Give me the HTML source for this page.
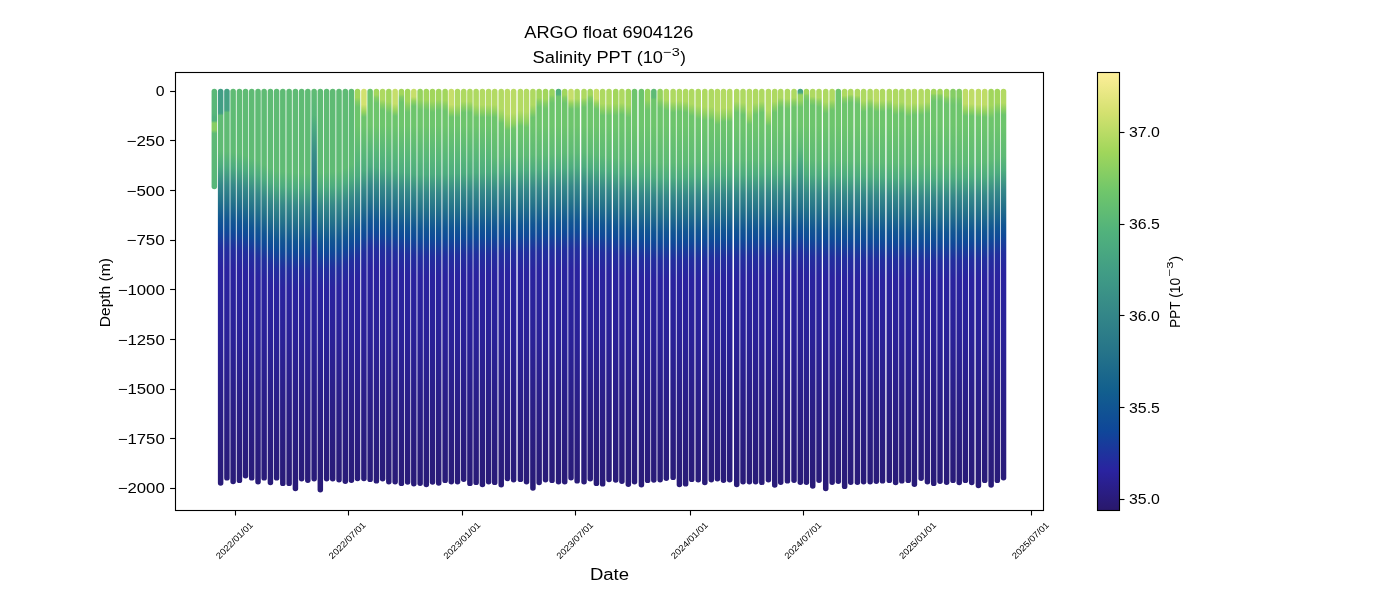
<!DOCTYPE html>
<html><head><meta charset="utf-8"><style>html,body{margin:0;padding:0;background:#fff;width:1400px;height:600px;overflow:hidden}svg{display:block;will-change:transform}</style></head><body><svg width="1400" height="600" viewBox="0 0 1400 600" font-family='"Liberation Sans", sans-serif' fill="#000">
<defs><linearGradient id="g0" gradientUnits="userSpaceOnUse" x1="0" y1="91.3" x2="0" y2="490.4"><stop offset="0.0000" stop-color="#5ab877"/><stop offset="0.0547" stop-color="#57b679"/><stop offset="0.0647" stop-color="#50b17c"/><stop offset="0.0736" stop-color="#50b17c"/><stop offset="0.0796" stop-color="#87ce63"/><stop offset="0.0970" stop-color="#87ce63"/><stop offset="0.1055" stop-color="#5eba75"/><stop offset="0.2488" stop-color="#57b679"/></linearGradient><linearGradient id="g1" gradientUnits="userSpaceOnUse" x1="0" y1="91.3" x2="0" y2="490.4"><stop offset="0.0000" stop-color="#429e85"/><stop offset="0.0547" stop-color="#429e85"/><stop offset="0.0607" stop-color="#5fbb74"/><stop offset="0.1493" stop-color="#5fbb74"/><stop offset="0.1866" stop-color="#4dac7e"/><stop offset="0.2338" stop-color="#358888"/><stop offset="0.2761" stop-color="#23718a"/><stop offset="0.3234" stop-color="#115593"/><stop offset="0.3483" stop-color="#0f4a98"/><stop offset="0.3930" stop-color="#222e9e"/><stop offset="0.4428" stop-color="#2a239f"/><stop offset="0.6219" stop-color="#2a2197"/><stop offset="0.7960" stop-color="#2a1e86"/><stop offset="1.0000" stop-color="#291b77"/></linearGradient><linearGradient id="g2" gradientUnits="userSpaceOnUse" x1="0" y1="91.3" x2="0" y2="490.4"><stop offset="0.0000" stop-color="#44a183"/><stop offset="0.0473" stop-color="#44a183"/><stop offset="0.0532" stop-color="#5fbb74"/><stop offset="0.1509" stop-color="#5fbb74"/><stop offset="0.1882" stop-color="#4dac7e"/><stop offset="0.2355" stop-color="#358888"/><stop offset="0.2778" stop-color="#23718a"/><stop offset="0.3250" stop-color="#115593"/><stop offset="0.3499" stop-color="#0f4a98"/><stop offset="0.3947" stop-color="#222e9e"/><stop offset="0.4444" stop-color="#2a239f"/><stop offset="0.6219" stop-color="#2a2197"/><stop offset="0.7960" stop-color="#2a1e86"/><stop offset="1.0000" stop-color="#291b77"/></linearGradient><linearGradient id="g3" gradientUnits="userSpaceOnUse" x1="0" y1="91.3" x2="0" y2="490.4"><stop offset="0.0000" stop-color="#5fbb74"/><stop offset="0.1526" stop-color="#5fbb74"/><stop offset="0.1899" stop-color="#4dac7e"/><stop offset="0.2371" stop-color="#358888"/><stop offset="0.2794" stop-color="#23718a"/><stop offset="0.3267" stop-color="#115593"/><stop offset="0.3516" stop-color="#0f4a98"/><stop offset="0.3964" stop-color="#222e9e"/><stop offset="0.4461" stop-color="#2a239f"/><stop offset="0.6219" stop-color="#2a2197"/><stop offset="0.7960" stop-color="#2a1e86"/><stop offset="1.0000" stop-color="#291b77"/></linearGradient><linearGradient id="g4" gradientUnits="userSpaceOnUse" x1="0" y1="91.3" x2="0" y2="490.4"><stop offset="0.0000" stop-color="#5fbb74"/><stop offset="0.1542" stop-color="#5fbb74"/><stop offset="0.1915" stop-color="#4dac7e"/><stop offset="0.2388" stop-color="#358888"/><stop offset="0.2811" stop-color="#23718a"/><stop offset="0.3284" stop-color="#115593"/><stop offset="0.3532" stop-color="#0f4a98"/><stop offset="0.3980" stop-color="#222e9e"/><stop offset="0.4478" stop-color="#2a239f"/><stop offset="0.6219" stop-color="#2a2197"/><stop offset="0.7960" stop-color="#2a1e86"/><stop offset="1.0000" stop-color="#291b77"/></linearGradient><linearGradient id="g5" gradientUnits="userSpaceOnUse" x1="0" y1="91.3" x2="0" y2="490.4"><stop offset="0.0000" stop-color="#5fbb74"/><stop offset="0.1609" stop-color="#5fbb74"/><stop offset="0.1982" stop-color="#4dac7e"/><stop offset="0.2454" stop-color="#358888"/><stop offset="0.2877" stop-color="#23718a"/><stop offset="0.3350" stop-color="#115593"/><stop offset="0.3599" stop-color="#0f4a98"/><stop offset="0.4046" stop-color="#222e9e"/><stop offset="0.4544" stop-color="#2a239f"/><stop offset="0.6219" stop-color="#2a2197"/><stop offset="0.7960" stop-color="#2a1e86"/><stop offset="1.0000" stop-color="#291b77"/></linearGradient><linearGradient id="g6" gradientUnits="userSpaceOnUse" x1="0" y1="91.3" x2="0" y2="490.4"><stop offset="0.0000" stop-color="#5fbb74"/><stop offset="0.1675" stop-color="#5fbb74"/><stop offset="0.2048" stop-color="#4dac7e"/><stop offset="0.2521" stop-color="#358888"/><stop offset="0.2944" stop-color="#23718a"/><stop offset="0.3416" stop-color="#115593"/><stop offset="0.3665" stop-color="#0f4a98"/><stop offset="0.4113" stop-color="#222e9e"/><stop offset="0.4610" stop-color="#2a239f"/><stop offset="0.6219" stop-color="#2a2197"/><stop offset="0.7960" stop-color="#2a1e86"/><stop offset="1.0000" stop-color="#291b77"/></linearGradient><linearGradient id="g7" gradientUnits="userSpaceOnUse" x1="0" y1="91.3" x2="0" y2="490.4"><stop offset="0.0000" stop-color="#5fbb74"/><stop offset="0.1741" stop-color="#5fbb74"/><stop offset="0.2114" stop-color="#4dac7e"/><stop offset="0.2587" stop-color="#358888"/><stop offset="0.3010" stop-color="#23718a"/><stop offset="0.3483" stop-color="#115593"/><stop offset="0.3731" stop-color="#0f4a98"/><stop offset="0.4179" stop-color="#222e9e"/><stop offset="0.4677" stop-color="#2a239f"/><stop offset="0.6219" stop-color="#2a2197"/><stop offset="0.7960" stop-color="#2a1e86"/><stop offset="1.0000" stop-color="#291b77"/></linearGradient><linearGradient id="g8" gradientUnits="userSpaceOnUse" x1="0" y1="91.3" x2="0" y2="490.4"><stop offset="0.0000" stop-color="#5fbb74"/><stop offset="0.1828" stop-color="#5fbb74"/><stop offset="0.2201" stop-color="#4dac7e"/><stop offset="0.2673" stop-color="#358888"/><stop offset="0.3096" stop-color="#23718a"/><stop offset="0.3569" stop-color="#115593"/><stop offset="0.3818" stop-color="#0f4a98"/><stop offset="0.4265" stop-color="#222e9e"/><stop offset="0.4763" stop-color="#2a239f"/><stop offset="0.6219" stop-color="#2a2197"/><stop offset="0.7960" stop-color="#2a1e86"/><stop offset="1.0000" stop-color="#291b77"/></linearGradient><linearGradient id="g9" gradientUnits="userSpaceOnUse" x1="0" y1="91.3" x2="0" y2="490.4"><stop offset="0.0000" stop-color="#5fbb74"/><stop offset="0.1914" stop-color="#5fbb74"/><stop offset="0.2287" stop-color="#4dac7e"/><stop offset="0.2760" stop-color="#358888"/><stop offset="0.3182" stop-color="#23718a"/><stop offset="0.3655" stop-color="#115593"/><stop offset="0.3904" stop-color="#0f4a98"/><stop offset="0.4352" stop-color="#222e9e"/><stop offset="0.4849" stop-color="#2a239f"/><stop offset="0.6219" stop-color="#2a2197"/><stop offset="0.7960" stop-color="#2a1e86"/><stop offset="1.0000" stop-color="#291b77"/></linearGradient><linearGradient id="g10" gradientUnits="userSpaceOnUse" x1="0" y1="91.3" x2="0" y2="490.4"><stop offset="0.0000" stop-color="#5fbb74"/><stop offset="0.2000" stop-color="#5fbb74"/><stop offset="0.2373" stop-color="#4dac7e"/><stop offset="0.2846" stop-color="#358888"/><stop offset="0.3269" stop-color="#23718a"/><stop offset="0.3741" stop-color="#115593"/><stop offset="0.3990" stop-color="#0f4a98"/><stop offset="0.4438" stop-color="#222e9e"/><stop offset="0.4935" stop-color="#2a239f"/><stop offset="0.6219" stop-color="#2a2197"/><stop offset="0.7960" stop-color="#2a1e86"/><stop offset="1.0000" stop-color="#291b77"/></linearGradient><linearGradient id="g11" gradientUnits="userSpaceOnUse" x1="0" y1="91.3" x2="0" y2="490.4"><stop offset="0.0000" stop-color="#5fbb74"/><stop offset="0.2010" stop-color="#5fbb74"/><stop offset="0.2383" stop-color="#4dac7e"/><stop offset="0.2856" stop-color="#358888"/><stop offset="0.3279" stop-color="#23718a"/><stop offset="0.3751" stop-color="#115593"/><stop offset="0.4000" stop-color="#0f4a98"/><stop offset="0.4448" stop-color="#222e9e"/><stop offset="0.4945" stop-color="#2a239f"/><stop offset="0.6219" stop-color="#2a2197"/><stop offset="0.7960" stop-color="#2a1e86"/><stop offset="1.0000" stop-color="#291b77"/></linearGradient><linearGradient id="g12" gradientUnits="userSpaceOnUse" x1="0" y1="91.3" x2="0" y2="490.4"><stop offset="0.0000" stop-color="#5fbb74"/><stop offset="0.2020" stop-color="#5fbb74"/><stop offset="0.2393" stop-color="#4dac7e"/><stop offset="0.2866" stop-color="#358888"/><stop offset="0.3289" stop-color="#23718a"/><stop offset="0.3761" stop-color="#115593"/><stop offset="0.4010" stop-color="#0f4a98"/><stop offset="0.4458" stop-color="#222e9e"/><stop offset="0.4955" stop-color="#2a239f"/><stop offset="0.6219" stop-color="#2a2197"/><stop offset="0.7960" stop-color="#2a1e86"/><stop offset="1.0000" stop-color="#291b77"/></linearGradient><linearGradient id="g13" gradientUnits="userSpaceOnUse" x1="0" y1="91.3" x2="0" y2="490.4"><stop offset="0.0000" stop-color="#5fbb74"/><stop offset="0.2030" stop-color="#5fbb74"/><stop offset="0.2403" stop-color="#4dac7e"/><stop offset="0.2876" stop-color="#358888"/><stop offset="0.3299" stop-color="#23718a"/><stop offset="0.3771" stop-color="#115593"/><stop offset="0.4020" stop-color="#0f4a98"/><stop offset="0.4468" stop-color="#222e9e"/><stop offset="0.4965" stop-color="#2a239f"/><stop offset="0.6219" stop-color="#2a2197"/><stop offset="0.7960" stop-color="#2a1e86"/><stop offset="1.0000" stop-color="#291b77"/></linearGradient><linearGradient id="g14" gradientUnits="userSpaceOnUse" x1="0" y1="91.3" x2="0" y2="490.4"><stop offset="0.0000" stop-color="#5fbb74"/><stop offset="0.2040" stop-color="#5fbb74"/><stop offset="0.2413" stop-color="#4dac7e"/><stop offset="0.2886" stop-color="#358888"/><stop offset="0.3308" stop-color="#23718a"/><stop offset="0.3781" stop-color="#115593"/><stop offset="0.4030" stop-color="#0f4a98"/><stop offset="0.4478" stop-color="#222e9e"/><stop offset="0.4975" stop-color="#2a239f"/><stop offset="0.6219" stop-color="#2a2197"/><stop offset="0.7960" stop-color="#2a1e86"/><stop offset="1.0000" stop-color="#291b77"/></linearGradient><linearGradient id="g15" gradientUnits="userSpaceOnUse" x1="0" y1="91.3" x2="0" y2="490.4"><stop offset="0.0000" stop-color="#5fbb74"/><stop offset="0.2050" stop-color="#5fbb74"/><stop offset="0.2423" stop-color="#4dac7e"/><stop offset="0.2896" stop-color="#358888"/><stop offset="0.3318" stop-color="#23718a"/><stop offset="0.3791" stop-color="#115593"/><stop offset="0.4040" stop-color="#0f4a98"/><stop offset="0.4488" stop-color="#222e9e"/><stop offset="0.4985" stop-color="#2a239f"/><stop offset="0.6219" stop-color="#2a2197"/><stop offset="0.7960" stop-color="#2a1e86"/><stop offset="1.0000" stop-color="#291b77"/></linearGradient><linearGradient id="g16" gradientUnits="userSpaceOnUse" x1="0" y1="91.3" x2="0" y2="490.4"><stop offset="0.0000" stop-color="#5fbb74"/><stop offset="0.0597" stop-color="#57b679"/><stop offset="0.0896" stop-color="#4baa7f"/><stop offset="0.1542" stop-color="#388d87"/><stop offset="0.2423" stop-color="#257389"/><stop offset="0.3025" stop-color="#115b90"/><stop offset="0.3483" stop-color="#0f4899"/><stop offset="0.3955" stop-color="#222e9e"/><stop offset="0.4726" stop-color="#2a239f"/><stop offset="0.6219" stop-color="#2a2197"/><stop offset="0.7960" stop-color="#2a1e86"/><stop offset="1.0000" stop-color="#291b77"/></linearGradient><linearGradient id="g17" gradientUnits="userSpaceOnUse" x1="0" y1="91.3" x2="0" y2="490.4"><stop offset="0.0000" stop-color="#5fbb74"/><stop offset="0.2030" stop-color="#5fbb74"/><stop offset="0.2403" stop-color="#4dac7e"/><stop offset="0.2876" stop-color="#358888"/><stop offset="0.3299" stop-color="#23718a"/><stop offset="0.3771" stop-color="#115593"/><stop offset="0.4020" stop-color="#0f4a98"/><stop offset="0.4468" stop-color="#222e9e"/><stop offset="0.4965" stop-color="#2a239f"/><stop offset="0.6219" stop-color="#2a2197"/><stop offset="0.7960" stop-color="#2a1e86"/><stop offset="1.0000" stop-color="#291b77"/></linearGradient><linearGradient id="g18" gradientUnits="userSpaceOnUse" x1="0" y1="91.3" x2="0" y2="490.4"><stop offset="0.0000" stop-color="#5fbb74"/><stop offset="0.2020" stop-color="#5fbb74"/><stop offset="0.2393" stop-color="#4dac7e"/><stop offset="0.2866" stop-color="#358888"/><stop offset="0.3289" stop-color="#23718a"/><stop offset="0.3761" stop-color="#115593"/><stop offset="0.4010" stop-color="#0f4a98"/><stop offset="0.4458" stop-color="#222e9e"/><stop offset="0.4955" stop-color="#2a239f"/><stop offset="0.6219" stop-color="#2a2197"/><stop offset="0.7960" stop-color="#2a1e86"/><stop offset="1.0000" stop-color="#291b77"/></linearGradient><linearGradient id="g19" gradientUnits="userSpaceOnUse" x1="0" y1="91.3" x2="0" y2="490.4"><stop offset="0.0000" stop-color="#5fbb74"/><stop offset="0.2010" stop-color="#5fbb74"/><stop offset="0.2383" stop-color="#4dac7e"/><stop offset="0.2856" stop-color="#358888"/><stop offset="0.3279" stop-color="#23718a"/><stop offset="0.3751" stop-color="#115593"/><stop offset="0.4000" stop-color="#0f4a98"/><stop offset="0.4448" stop-color="#222e9e"/><stop offset="0.4945" stop-color="#2a239f"/><stop offset="0.6219" stop-color="#2a2197"/><stop offset="0.7960" stop-color="#2a1e86"/><stop offset="1.0000" stop-color="#291b77"/></linearGradient><linearGradient id="g20" gradientUnits="userSpaceOnUse" x1="0" y1="91.3" x2="0" y2="490.4"><stop offset="0.0000" stop-color="#5fbb74"/><stop offset="0.2000" stop-color="#5fbb74"/><stop offset="0.2373" stop-color="#4dac7e"/><stop offset="0.2846" stop-color="#358888"/><stop offset="0.3269" stop-color="#23718a"/><stop offset="0.3741" stop-color="#115593"/><stop offset="0.3990" stop-color="#0f4a98"/><stop offset="0.4438" stop-color="#222e9e"/><stop offset="0.4935" stop-color="#2a239f"/><stop offset="0.6219" stop-color="#2a2197"/><stop offset="0.7960" stop-color="#2a1e86"/><stop offset="1.0000" stop-color="#291b77"/></linearGradient><linearGradient id="g21" gradientUnits="userSpaceOnUse" x1="0" y1="91.3" x2="0" y2="490.4"><stop offset="0.0000" stop-color="#5fbb74"/><stop offset="0.1914" stop-color="#5fbb74"/><stop offset="0.2287" stop-color="#4dac7e"/><stop offset="0.2760" stop-color="#358888"/><stop offset="0.3182" stop-color="#23718a"/><stop offset="0.3655" stop-color="#115593"/><stop offset="0.3904" stop-color="#0f4a98"/><stop offset="0.4352" stop-color="#222e9e"/><stop offset="0.4849" stop-color="#2a239f"/><stop offset="0.6219" stop-color="#2a2197"/><stop offset="0.7960" stop-color="#2a1e86"/><stop offset="1.0000" stop-color="#291b77"/></linearGradient><linearGradient id="g22" gradientUnits="userSpaceOnUse" x1="0" y1="91.3" x2="0" y2="490.4"><stop offset="0.0000" stop-color="#5fbb74"/><stop offset="0.1828" stop-color="#5fbb74"/><stop offset="0.2201" stop-color="#4dac7e"/><stop offset="0.2673" stop-color="#358888"/><stop offset="0.3096" stop-color="#23718a"/><stop offset="0.3569" stop-color="#115593"/><stop offset="0.3818" stop-color="#0f4a98"/><stop offset="0.4265" stop-color="#222e9e"/><stop offset="0.4763" stop-color="#2a239f"/><stop offset="0.6219" stop-color="#2a2197"/><stop offset="0.7960" stop-color="#2a1e86"/><stop offset="1.0000" stop-color="#291b77"/></linearGradient><linearGradient id="g23" gradientUnits="userSpaceOnUse" x1="0" y1="91.3" x2="0" y2="490.4"><stop offset="0.0000" stop-color="#a2d65c"/><stop offset="0.0157" stop-color="#a2d65c"/><stop offset="0.0264" stop-color="#84cd64"/><stop offset="0.0398" stop-color="#6dc56c"/><stop offset="0.0846" stop-color="#6dc56c"/><stop offset="0.1741" stop-color="#57b679"/><stop offset="0.2114" stop-color="#4dac7e"/><stop offset="0.2587" stop-color="#358888"/><stop offset="0.3010" stop-color="#23718a"/><stop offset="0.3483" stop-color="#115593"/><stop offset="0.3731" stop-color="#0f4a98"/><stop offset="0.4179" stop-color="#222e9e"/><stop offset="0.4677" stop-color="#2a239f"/><stop offset="0.6219" stop-color="#2a2197"/><stop offset="0.7960" stop-color="#2a1e86"/><stop offset="1.0000" stop-color="#291b77"/></linearGradient><linearGradient id="g24" gradientUnits="userSpaceOnUse" x1="0" y1="91.3" x2="0" y2="490.4"><stop offset="0.0000" stop-color="#d2e16f"/><stop offset="0.0331" stop-color="#d2e16f"/><stop offset="0.0512" stop-color="#98d35e"/><stop offset="0.0647" stop-color="#6dc56c"/><stop offset="0.0846" stop-color="#6dc56c"/><stop offset="0.1617" stop-color="#57b679"/><stop offset="0.1990" stop-color="#4dac7e"/><stop offset="0.2463" stop-color="#358888"/><stop offset="0.2886" stop-color="#23718a"/><stop offset="0.3358" stop-color="#115593"/><stop offset="0.3607" stop-color="#0f4a98"/><stop offset="0.4055" stop-color="#222e9e"/><stop offset="0.4552" stop-color="#2a239f"/><stop offset="0.6219" stop-color="#2a2197"/><stop offset="0.7960" stop-color="#2a1e86"/><stop offset="1.0000" stop-color="#291b77"/></linearGradient><linearGradient id="g25" gradientUnits="userSpaceOnUse" x1="0" y1="91.3" x2="0" y2="490.4"><stop offset="0.0000" stop-color="#6dc56c"/><stop offset="0.0846" stop-color="#6dc56c"/><stop offset="0.1493" stop-color="#57b679"/><stop offset="0.1866" stop-color="#4dac7e"/><stop offset="0.2338" stop-color="#358888"/><stop offset="0.2761" stop-color="#23718a"/><stop offset="0.3234" stop-color="#115593"/><stop offset="0.3483" stop-color="#0f4a98"/><stop offset="0.3930" stop-color="#222e9e"/><stop offset="0.4428" stop-color="#2a239f"/><stop offset="0.6219" stop-color="#2a2197"/><stop offset="0.7960" stop-color="#2a1e86"/><stop offset="1.0000" stop-color="#291b77"/></linearGradient><linearGradient id="g26" gradientUnits="userSpaceOnUse" x1="0" y1="91.3" x2="0" y2="490.4"><stop offset="0.0000" stop-color="#a2d65c"/><stop offset="0.0087" stop-color="#a2d65c"/><stop offset="0.0164" stop-color="#84cd64"/><stop offset="0.0299" stop-color="#6dc56c"/><stop offset="0.0846" stop-color="#6dc56c"/><stop offset="0.1526" stop-color="#57b679"/><stop offset="0.1899" stop-color="#4dac7e"/><stop offset="0.2371" stop-color="#358888"/><stop offset="0.2794" stop-color="#23718a"/><stop offset="0.3267" stop-color="#115593"/><stop offset="0.3516" stop-color="#0f4a98"/><stop offset="0.3964" stop-color="#222e9e"/><stop offset="0.4461" stop-color="#2a239f"/><stop offset="0.6219" stop-color="#2a2197"/><stop offset="0.7960" stop-color="#2a1e86"/><stop offset="1.0000" stop-color="#291b77"/></linearGradient><linearGradient id="g27" gradientUnits="userSpaceOnUse" x1="0" y1="91.3" x2="0" y2="490.4"><stop offset="0.0000" stop-color="#aed961"/><stop offset="0.0209" stop-color="#aed961"/><stop offset="0.0338" stop-color="#89ce63"/><stop offset="0.0473" stop-color="#6dc56c"/><stop offset="0.0846" stop-color="#6dc56c"/><stop offset="0.1559" stop-color="#57b679"/><stop offset="0.1932" stop-color="#4dac7e"/><stop offset="0.2405" stop-color="#358888"/><stop offset="0.2828" stop-color="#23718a"/><stop offset="0.3300" stop-color="#115593"/><stop offset="0.3549" stop-color="#0f4a98"/><stop offset="0.3997" stop-color="#222e9e"/><stop offset="0.4494" stop-color="#2a239f"/><stop offset="0.6219" stop-color="#2a2197"/><stop offset="0.7960" stop-color="#2a1e86"/><stop offset="1.0000" stop-color="#291b77"/></linearGradient><linearGradient id="g28" gradientUnits="userSpaceOnUse" x1="0" y1="91.3" x2="0" y2="490.4"><stop offset="0.0000" stop-color="#a2d65c"/><stop offset="0.0261" stop-color="#a2d65c"/><stop offset="0.0413" stop-color="#84cd64"/><stop offset="0.0547" stop-color="#6dc56c"/><stop offset="0.0846" stop-color="#6dc56c"/><stop offset="0.1592" stop-color="#57b679"/><stop offset="0.1965" stop-color="#4dac7e"/><stop offset="0.2438" stop-color="#358888"/><stop offset="0.2861" stop-color="#23718a"/><stop offset="0.3333" stop-color="#115593"/><stop offset="0.3582" stop-color="#0f4a98"/><stop offset="0.4030" stop-color="#222e9e"/><stop offset="0.4527" stop-color="#2a239f"/><stop offset="0.6219" stop-color="#2a2197"/><stop offset="0.7960" stop-color="#2a1e86"/><stop offset="1.0000" stop-color="#291b77"/></linearGradient><linearGradient id="g29" gradientUnits="userSpaceOnUse" x1="0" y1="91.3" x2="0" y2="490.4"><stop offset="0.0000" stop-color="#c6de6a"/><stop offset="0.0313" stop-color="#c6de6a"/><stop offset="0.0488" stop-color="#93d25f"/><stop offset="0.0622" stop-color="#6dc56c"/><stop offset="0.0846" stop-color="#6dc56c"/><stop offset="0.1617" stop-color="#57b679"/><stop offset="0.1990" stop-color="#4dac7e"/><stop offset="0.2463" stop-color="#358888"/><stop offset="0.2886" stop-color="#23718a"/><stop offset="0.3358" stop-color="#115593"/><stop offset="0.3607" stop-color="#0f4a98"/><stop offset="0.4055" stop-color="#222e9e"/><stop offset="0.4552" stop-color="#2a239f"/><stop offset="0.6219" stop-color="#2a2197"/><stop offset="0.7960" stop-color="#2a1e86"/><stop offset="1.0000" stop-color="#291b77"/></linearGradient><linearGradient id="g30" gradientUnits="userSpaceOnUse" x1="0" y1="91.3" x2="0" y2="490.4"><stop offset="0.0000" stop-color="#a2d65c"/><stop offset="0.0070" stop-color="#a2d65c"/><stop offset="0.0139" stop-color="#84cd64"/><stop offset="0.0274" stop-color="#6dc56c"/><stop offset="0.0846" stop-color="#6dc56c"/><stop offset="0.1642" stop-color="#57b679"/><stop offset="0.2015" stop-color="#4dac7e"/><stop offset="0.2488" stop-color="#358888"/><stop offset="0.2910" stop-color="#23718a"/><stop offset="0.3383" stop-color="#115593"/><stop offset="0.3632" stop-color="#0f4a98"/><stop offset="0.4080" stop-color="#222e9e"/><stop offset="0.4577" stop-color="#2a239f"/><stop offset="0.6219" stop-color="#2a2197"/><stop offset="0.7960" stop-color="#2a1e86"/><stop offset="1.0000" stop-color="#291b77"/></linearGradient><linearGradient id="g31" gradientUnits="userSpaceOnUse" x1="0" y1="91.3" x2="0" y2="490.4"><stop offset="0.0000" stop-color="#a2d65c"/><stop offset="0.0244" stop-color="#a2d65c"/><stop offset="0.0388" stop-color="#84cd64"/><stop offset="0.0522" stop-color="#6dc56c"/><stop offset="0.0846" stop-color="#6dc56c"/><stop offset="0.1667" stop-color="#57b679"/><stop offset="0.2040" stop-color="#4dac7e"/><stop offset="0.2512" stop-color="#358888"/><stop offset="0.2935" stop-color="#23718a"/><stop offset="0.3408" stop-color="#115593"/><stop offset="0.3657" stop-color="#0f4a98"/><stop offset="0.4104" stop-color="#222e9e"/><stop offset="0.4602" stop-color="#2a239f"/><stop offset="0.6219" stop-color="#2a2197"/><stop offset="0.7960" stop-color="#2a1e86"/><stop offset="1.0000" stop-color="#291b77"/></linearGradient><linearGradient id="g32" gradientUnits="userSpaceOnUse" x1="0" y1="91.3" x2="0" y2="490.4"><stop offset="0.0000" stop-color="#c6de6a"/><stop offset="0.0139" stop-color="#c6de6a"/><stop offset="0.0239" stop-color="#93d25f"/><stop offset="0.0373" stop-color="#6dc56c"/><stop offset="0.0846" stop-color="#6dc56c"/><stop offset="0.1692" stop-color="#57b679"/><stop offset="0.2065" stop-color="#4dac7e"/><stop offset="0.2537" stop-color="#358888"/><stop offset="0.2960" stop-color="#23718a"/><stop offset="0.3433" stop-color="#115593"/><stop offset="0.3682" stop-color="#0f4a98"/><stop offset="0.4129" stop-color="#222e9e"/><stop offset="0.4627" stop-color="#2a239f"/><stop offset="0.6219" stop-color="#2a2197"/><stop offset="0.7960" stop-color="#2a1e86"/><stop offset="1.0000" stop-color="#291b77"/></linearGradient><linearGradient id="g33" gradientUnits="userSpaceOnUse" x1="0" y1="91.3" x2="0" y2="490.4"><stop offset="0.0000" stop-color="#96d35e"/><stop offset="0.0209" stop-color="#96d35e"/><stop offset="0.0338" stop-color="#7fcb66"/><stop offset="0.0473" stop-color="#6dc56c"/><stop offset="0.0846" stop-color="#6dc56c"/><stop offset="0.1716" stop-color="#57b679"/><stop offset="0.2090" stop-color="#4dac7e"/><stop offset="0.2562" stop-color="#358888"/><stop offset="0.2985" stop-color="#23718a"/><stop offset="0.3458" stop-color="#115593"/><stop offset="0.3706" stop-color="#0f4a98"/><stop offset="0.4154" stop-color="#222e9e"/><stop offset="0.4652" stop-color="#2a239f"/><stop offset="0.6219" stop-color="#2a2197"/><stop offset="0.7960" stop-color="#2a1e86"/><stop offset="1.0000" stop-color="#291b77"/></linearGradient><linearGradient id="g34" gradientUnits="userSpaceOnUse" x1="0" y1="91.3" x2="0" y2="490.4"><stop offset="0.0000" stop-color="#a2d65c"/><stop offset="0.0209" stop-color="#a2d65c"/><stop offset="0.0338" stop-color="#84cd64"/><stop offset="0.0473" stop-color="#6dc56c"/><stop offset="0.0846" stop-color="#6dc56c"/><stop offset="0.1711" stop-color="#57b679"/><stop offset="0.2084" stop-color="#4dac7e"/><stop offset="0.2556" stop-color="#358888"/><stop offset="0.2979" stop-color="#23718a"/><stop offset="0.3452" stop-color="#115593"/><stop offset="0.3701" stop-color="#0f4a98"/><stop offset="0.4148" stop-color="#222e9e"/><stop offset="0.4646" stop-color="#2a239f"/><stop offset="0.6219" stop-color="#2a2197"/><stop offset="0.7960" stop-color="#2a1e86"/><stop offset="1.0000" stop-color="#291b77"/></linearGradient><linearGradient id="g35" gradientUnits="userSpaceOnUse" x1="0" y1="91.3" x2="0" y2="490.4"><stop offset="0.0000" stop-color="#a2d65c"/><stop offset="0.0244" stop-color="#a2d65c"/><stop offset="0.0388" stop-color="#84cd64"/><stop offset="0.0522" stop-color="#6dc56c"/><stop offset="0.0846" stop-color="#6dc56c"/><stop offset="0.1705" stop-color="#57b679"/><stop offset="0.2078" stop-color="#4dac7e"/><stop offset="0.2551" stop-color="#358888"/><stop offset="0.2974" stop-color="#23718a"/><stop offset="0.3446" stop-color="#115593"/><stop offset="0.3695" stop-color="#0f4a98"/><stop offset="0.4143" stop-color="#222e9e"/><stop offset="0.4640" stop-color="#2a239f"/><stop offset="0.6219" stop-color="#2a2197"/><stop offset="0.7960" stop-color="#2a1e86"/><stop offset="1.0000" stop-color="#291b77"/></linearGradient><linearGradient id="g36" gradientUnits="userSpaceOnUse" x1="0" y1="91.3" x2="0" y2="490.4"><stop offset="0.0000" stop-color="#a2d65c"/><stop offset="0.0209" stop-color="#a2d65c"/><stop offset="0.0338" stop-color="#84cd64"/><stop offset="0.0473" stop-color="#6dc56c"/><stop offset="0.0846" stop-color="#6dc56c"/><stop offset="0.1699" stop-color="#57b679"/><stop offset="0.2072" stop-color="#4dac7e"/><stop offset="0.2545" stop-color="#358888"/><stop offset="0.2968" stop-color="#23718a"/><stop offset="0.3440" stop-color="#115593"/><stop offset="0.3689" stop-color="#0f4a98"/><stop offset="0.4137" stop-color="#222e9e"/><stop offset="0.4635" stop-color="#2a239f"/><stop offset="0.6219" stop-color="#2a2197"/><stop offset="0.7960" stop-color="#2a1e86"/><stop offset="1.0000" stop-color="#291b77"/></linearGradient><linearGradient id="g37" gradientUnits="userSpaceOnUse" x1="0" y1="91.3" x2="0" y2="490.4"><stop offset="0.0000" stop-color="#a2d65c"/><stop offset="0.0226" stop-color="#a2d65c"/><stop offset="0.0363" stop-color="#84cd64"/><stop offset="0.0498" stop-color="#6dc56c"/><stop offset="0.0846" stop-color="#6dc56c"/><stop offset="0.1693" stop-color="#57b679"/><stop offset="0.2067" stop-color="#4dac7e"/><stop offset="0.2539" stop-color="#358888"/><stop offset="0.2962" stop-color="#23718a"/><stop offset="0.3435" stop-color="#115593"/><stop offset="0.3684" stop-color="#0f4a98"/><stop offset="0.4131" stop-color="#222e9e"/><stop offset="0.4629" stop-color="#2a239f"/><stop offset="0.6219" stop-color="#2a2197"/><stop offset="0.7960" stop-color="#2a1e86"/><stop offset="1.0000" stop-color="#291b77"/></linearGradient><linearGradient id="g38" gradientUnits="userSpaceOnUse" x1="0" y1="91.3" x2="0" y2="490.4"><stop offset="0.0000" stop-color="#c6de6a"/><stop offset="0.0331" stop-color="#c6de6a"/><stop offset="0.0512" stop-color="#93d25f"/><stop offset="0.0647" stop-color="#6dc56c"/><stop offset="0.0846" stop-color="#6dc56c"/><stop offset="0.1688" stop-color="#57b679"/><stop offset="0.2061" stop-color="#4dac7e"/><stop offset="0.2533" stop-color="#358888"/><stop offset="0.2956" stop-color="#23718a"/><stop offset="0.3429" stop-color="#115593"/><stop offset="0.3678" stop-color="#0f4a98"/><stop offset="0.4126" stop-color="#222e9e"/><stop offset="0.4623" stop-color="#2a239f"/><stop offset="0.6219" stop-color="#2a2197"/><stop offset="0.7960" stop-color="#2a1e86"/><stop offset="1.0000" stop-color="#291b77"/></linearGradient><linearGradient id="g39" gradientUnits="userSpaceOnUse" x1="0" y1="91.3" x2="0" y2="490.4"><stop offset="0.0000" stop-color="#aed961"/><stop offset="0.0338" stop-color="#aed961"/><stop offset="0.0522" stop-color="#89ce63"/><stop offset="0.0657" stop-color="#6dc56c"/><stop offset="0.0846" stop-color="#6dc56c"/><stop offset="0.1682" stop-color="#57b679"/><stop offset="0.2055" stop-color="#4dac7e"/><stop offset="0.2528" stop-color="#358888"/><stop offset="0.2951" stop-color="#23718a"/><stop offset="0.3423" stop-color="#115593"/><stop offset="0.3672" stop-color="#0f4a98"/><stop offset="0.4120" stop-color="#222e9e"/><stop offset="0.4617" stop-color="#2a239f"/><stop offset="0.6219" stop-color="#2a2197"/><stop offset="0.7960" stop-color="#2a1e86"/><stop offset="1.0000" stop-color="#291b77"/></linearGradient><linearGradient id="g40" gradientUnits="userSpaceOnUse" x1="0" y1="91.3" x2="0" y2="490.4"><stop offset="0.0000" stop-color="#aed961"/><stop offset="0.0251" stop-color="#aed961"/><stop offset="0.0398" stop-color="#89ce63"/><stop offset="0.0532" stop-color="#6dc56c"/><stop offset="0.0846" stop-color="#6dc56c"/><stop offset="0.1676" stop-color="#57b679"/><stop offset="0.2049" stop-color="#4dac7e"/><stop offset="0.2522" stop-color="#358888"/><stop offset="0.2945" stop-color="#23718a"/><stop offset="0.3418" stop-color="#115593"/><stop offset="0.3666" stop-color="#0f4a98"/><stop offset="0.4114" stop-color="#222e9e"/><stop offset="0.4612" stop-color="#2a239f"/><stop offset="0.6219" stop-color="#2a2197"/><stop offset="0.7960" stop-color="#2a1e86"/><stop offset="1.0000" stop-color="#291b77"/></linearGradient><linearGradient id="g41" gradientUnits="userSpaceOnUse" x1="0" y1="91.3" x2="0" y2="490.4"><stop offset="0.0000" stop-color="#aed961"/><stop offset="0.0251" stop-color="#aed961"/><stop offset="0.0398" stop-color="#89ce63"/><stop offset="0.0532" stop-color="#6dc56c"/><stop offset="0.0846" stop-color="#6dc56c"/><stop offset="0.1670" stop-color="#57b679"/><stop offset="0.2044" stop-color="#4dac7e"/><stop offset="0.2516" stop-color="#358888"/><stop offset="0.2939" stop-color="#23718a"/><stop offset="0.3412" stop-color="#115593"/><stop offset="0.3661" stop-color="#0f4a98"/><stop offset="0.4108" stop-color="#222e9e"/><stop offset="0.4606" stop-color="#2a239f"/><stop offset="0.6219" stop-color="#2a2197"/><stop offset="0.7960" stop-color="#2a1e86"/><stop offset="1.0000" stop-color="#291b77"/></linearGradient><linearGradient id="g42" gradientUnits="userSpaceOnUse" x1="0" y1="91.3" x2="0" y2="490.4"><stop offset="0.0000" stop-color="#aed961"/><stop offset="0.0338" stop-color="#aed961"/><stop offset="0.0522" stop-color="#89ce63"/><stop offset="0.0657" stop-color="#6dc56c"/><stop offset="0.0846" stop-color="#6dc56c"/><stop offset="0.1665" stop-color="#57b679"/><stop offset="0.2038" stop-color="#4dac7e"/><stop offset="0.2511" stop-color="#358888"/><stop offset="0.2933" stop-color="#23718a"/><stop offset="0.3406" stop-color="#115593"/><stop offset="0.3655" stop-color="#0f4a98"/><stop offset="0.4103" stop-color="#222e9e"/><stop offset="0.4600" stop-color="#2a239f"/><stop offset="0.6219" stop-color="#2a2197"/><stop offset="0.7960" stop-color="#2a1e86"/><stop offset="1.0000" stop-color="#291b77"/></linearGradient><linearGradient id="g43" gradientUnits="userSpaceOnUse" x1="0" y1="91.3" x2="0" y2="490.4"><stop offset="0.0000" stop-color="#b3da63"/><stop offset="0.0338" stop-color="#b3da63"/><stop offset="0.0522" stop-color="#8bcf62"/><stop offset="0.0657" stop-color="#6dc56c"/><stop offset="0.0846" stop-color="#6dc56c"/><stop offset="0.1659" stop-color="#57b679"/><stop offset="0.2032" stop-color="#4dac7e"/><stop offset="0.2505" stop-color="#358888"/><stop offset="0.2928" stop-color="#23718a"/><stop offset="0.3400" stop-color="#115593"/><stop offset="0.3649" stop-color="#0f4a98"/><stop offset="0.4097" stop-color="#222e9e"/><stop offset="0.4594" stop-color="#2a239f"/><stop offset="0.6219" stop-color="#2a2197"/><stop offset="0.7960" stop-color="#2a1e86"/><stop offset="1.0000" stop-color="#291b77"/></linearGradient><linearGradient id="g44" gradientUnits="userSpaceOnUse" x1="0" y1="91.3" x2="0" y2="490.4"><stop offset="0.0000" stop-color="#b3da63"/><stop offset="0.0338" stop-color="#b3da63"/><stop offset="0.0522" stop-color="#8bcf62"/><stop offset="0.0657" stop-color="#6dc56c"/><stop offset="0.0846" stop-color="#6dc56c"/><stop offset="0.1653" stop-color="#57b679"/><stop offset="0.2026" stop-color="#4dac7e"/><stop offset="0.2499" stop-color="#358888"/><stop offset="0.2922" stop-color="#23718a"/><stop offset="0.3395" stop-color="#115593"/><stop offset="0.3643" stop-color="#0f4a98"/><stop offset="0.4091" stop-color="#222e9e"/><stop offset="0.4589" stop-color="#2a239f"/><stop offset="0.6219" stop-color="#2a2197"/><stop offset="0.7960" stop-color="#2a1e86"/><stop offset="1.0000" stop-color="#291b77"/></linearGradient><linearGradient id="g45" gradientUnits="userSpaceOnUse" x1="0" y1="91.3" x2="0" y2="490.4"><stop offset="0.0000" stop-color="#b3da63"/><stop offset="0.0338" stop-color="#b3da63"/><stop offset="0.0522" stop-color="#8bcf62"/><stop offset="0.0657" stop-color="#6dc56c"/><stop offset="0.0846" stop-color="#6dc56c"/><stop offset="0.1648" stop-color="#5eba75"/><stop offset="0.2021" stop-color="#4dac7e"/><stop offset="0.2493" stop-color="#358888"/><stop offset="0.2916" stop-color="#23718a"/><stop offset="0.3389" stop-color="#115593"/><stop offset="0.3638" stop-color="#0f4a98"/><stop offset="0.4085" stop-color="#222e9e"/><stop offset="0.4583" stop-color="#2a239f"/><stop offset="0.6219" stop-color="#2a2197"/><stop offset="0.7960" stop-color="#2a1e86"/><stop offset="1.0000" stop-color="#291b77"/></linearGradient><linearGradient id="g46" gradientUnits="userSpaceOnUse" x1="0" y1="91.3" x2="0" y2="490.4"><stop offset="0.0000" stop-color="#b3da63"/><stop offset="0.0439" stop-color="#b3da63"/><stop offset="0.0667" stop-color="#8bcf62"/><stop offset="0.0801" stop-color="#6dc56c"/><stop offset="0.0851" stop-color="#6dc56c"/><stop offset="0.1642" stop-color="#5eba75"/><stop offset="0.2015" stop-color="#4dac7e"/><stop offset="0.2488" stop-color="#358888"/><stop offset="0.2910" stop-color="#23718a"/><stop offset="0.3383" stop-color="#115593"/><stop offset="0.3632" stop-color="#0f4a98"/><stop offset="0.4080" stop-color="#222e9e"/><stop offset="0.4577" stop-color="#2a239f"/><stop offset="0.6219" stop-color="#2a2197"/><stop offset="0.7960" stop-color="#2a1e86"/><stop offset="1.0000" stop-color="#291b77"/></linearGradient><linearGradient id="g47" gradientUnits="userSpaceOnUse" x1="0" y1="91.3" x2="0" y2="490.4"><stop offset="0.0000" stop-color="#badb65"/><stop offset="0.0564" stop-color="#badb65"/><stop offset="0.0846" stop-color="#8ed061"/><stop offset="0.0980" stop-color="#6dc56c"/><stop offset="0.1030" stop-color="#6dc56c"/><stop offset="0.1632" stop-color="#5eba75"/><stop offset="0.2005" stop-color="#4dac7e"/><stop offset="0.2478" stop-color="#358888"/><stop offset="0.2901" stop-color="#23718a"/><stop offset="0.3374" stop-color="#115593"/><stop offset="0.3622" stop-color="#0f4a98"/><stop offset="0.4070" stop-color="#222e9e"/><stop offset="0.4568" stop-color="#2a239f"/><stop offset="0.6219" stop-color="#2a2197"/><stop offset="0.7960" stop-color="#2a1e86"/><stop offset="1.0000" stop-color="#291b77"/></linearGradient><linearGradient id="g48" gradientUnits="userSpaceOnUse" x1="0" y1="91.3" x2="0" y2="490.4"><stop offset="0.0000" stop-color="#badb65"/><stop offset="0.0540" stop-color="#badb65"/><stop offset="0.0811" stop-color="#8ed061"/><stop offset="0.0945" stop-color="#6dc56c"/><stop offset="0.0995" stop-color="#6dc56c"/><stop offset="0.1623" stop-color="#5eba75"/><stop offset="0.1996" stop-color="#4dac7e"/><stop offset="0.2468" stop-color="#358888"/><stop offset="0.2891" stop-color="#23718a"/><stop offset="0.3364" stop-color="#115593"/><stop offset="0.3613" stop-color="#0f4a98"/><stop offset="0.4060" stop-color="#222e9e"/><stop offset="0.4558" stop-color="#2a239f"/><stop offset="0.6219" stop-color="#2a2197"/><stop offset="0.7960" stop-color="#2a1e86"/><stop offset="1.0000" stop-color="#291b77"/></linearGradient><linearGradient id="g49" gradientUnits="userSpaceOnUse" x1="0" y1="91.3" x2="0" y2="490.4"><stop offset="0.0000" stop-color="#b3da63"/><stop offset="0.0488" stop-color="#b3da63"/><stop offset="0.0736" stop-color="#8bcf62"/><stop offset="0.0871" stop-color="#6dc56c"/><stop offset="0.0920" stop-color="#6dc56c"/><stop offset="0.1613" stop-color="#5eba75"/><stop offset="0.1986" stop-color="#4dac7e"/><stop offset="0.2459" stop-color="#358888"/><stop offset="0.2882" stop-color="#23718a"/><stop offset="0.3354" stop-color="#115593"/><stop offset="0.3603" stop-color="#0f4a98"/><stop offset="0.4051" stop-color="#222e9e"/><stop offset="0.4548" stop-color="#2a239f"/><stop offset="0.6219" stop-color="#2a2197"/><stop offset="0.7960" stop-color="#2a1e86"/><stop offset="1.0000" stop-color="#291b77"/></linearGradient><linearGradient id="g50" gradientUnits="userSpaceOnUse" x1="0" y1="91.3" x2="0" y2="490.4"><stop offset="0.0000" stop-color="#b3da63"/><stop offset="0.0515" stop-color="#b3da63"/><stop offset="0.0776" stop-color="#8bcf62"/><stop offset="0.0910" stop-color="#6dc56c"/><stop offset="0.0960" stop-color="#6dc56c"/><stop offset="0.1604" stop-color="#5eba75"/><stop offset="0.1977" stop-color="#4dac7e"/><stop offset="0.2449" stop-color="#358888"/><stop offset="0.2872" stop-color="#23718a"/><stop offset="0.3345" stop-color="#115593"/><stop offset="0.3594" stop-color="#0f4a98"/><stop offset="0.4041" stop-color="#222e9e"/><stop offset="0.4539" stop-color="#2a239f"/><stop offset="0.6219" stop-color="#2a2197"/><stop offset="0.7960" stop-color="#2a1e86"/><stop offset="1.0000" stop-color="#291b77"/></linearGradient><linearGradient id="g51" gradientUnits="userSpaceOnUse" x1="0" y1="91.3" x2="0" y2="490.4"><stop offset="0.0000" stop-color="#aed961"/><stop offset="0.0338" stop-color="#aed961"/><stop offset="0.0522" stop-color="#89ce63"/><stop offset="0.0657" stop-color="#6dc56c"/><stop offset="0.0846" stop-color="#6dc56c"/><stop offset="0.1594" stop-color="#5eba75"/><stop offset="0.1967" stop-color="#4dac7e"/><stop offset="0.2440" stop-color="#358888"/><stop offset="0.2863" stop-color="#23718a"/><stop offset="0.3335" stop-color="#115593"/><stop offset="0.3584" stop-color="#0f4a98"/><stop offset="0.4032" stop-color="#222e9e"/><stop offset="0.4529" stop-color="#2a239f"/><stop offset="0.6219" stop-color="#2a2197"/><stop offset="0.7960" stop-color="#2a1e86"/><stop offset="1.0000" stop-color="#291b77"/></linearGradient><linearGradient id="g52" gradientUnits="userSpaceOnUse" x1="0" y1="91.3" x2="0" y2="490.4"><stop offset="0.0000" stop-color="#a2d65c"/><stop offset="0.0160" stop-color="#a2d65c"/><stop offset="0.0269" stop-color="#84cd64"/><stop offset="0.0403" stop-color="#6dc56c"/><stop offset="0.0846" stop-color="#6dc56c"/><stop offset="0.1584" stop-color="#5eba75"/><stop offset="0.1958" stop-color="#4dac7e"/><stop offset="0.2430" stop-color="#358888"/><stop offset="0.2853" stop-color="#23718a"/><stop offset="0.3326" stop-color="#115593"/><stop offset="0.3574" stop-color="#0f4a98"/><stop offset="0.4022" stop-color="#222e9e"/><stop offset="0.4520" stop-color="#2a239f"/><stop offset="0.6219" stop-color="#2a2197"/><stop offset="0.7960" stop-color="#2a1e86"/><stop offset="1.0000" stop-color="#291b77"/></linearGradient><linearGradient id="g53" gradientUnits="userSpaceOnUse" x1="0" y1="91.3" x2="0" y2="490.4"><stop offset="0.0000" stop-color="#a2d65c"/><stop offset="0.0188" stop-color="#a2d65c"/><stop offset="0.0308" stop-color="#84cd64"/><stop offset="0.0443" stop-color="#6dc56c"/><stop offset="0.0846" stop-color="#6dc56c"/><stop offset="0.1575" stop-color="#5eba75"/><stop offset="0.1948" stop-color="#4dac7e"/><stop offset="0.2421" stop-color="#358888"/><stop offset="0.2843" stop-color="#23718a"/><stop offset="0.3316" stop-color="#115593"/><stop offset="0.3565" stop-color="#0f4a98"/><stop offset="0.4013" stop-color="#222e9e"/><stop offset="0.4510" stop-color="#2a239f"/><stop offset="0.6219" stop-color="#2a2197"/><stop offset="0.7960" stop-color="#2a1e86"/><stop offset="1.0000" stop-color="#291b77"/></linearGradient><linearGradient id="g54" gradientUnits="userSpaceOnUse" x1="0" y1="91.3" x2="0" y2="490.4"><stop offset="0.0000" stop-color="#96d35e"/><stop offset="0.0087" stop-color="#96d35e"/><stop offset="0.0164" stop-color="#7fcb66"/><stop offset="0.0299" stop-color="#6dc56c"/><stop offset="0.0846" stop-color="#6dc56c"/><stop offset="0.1565" stop-color="#5eba75"/><stop offset="0.1938" stop-color="#4dac7e"/><stop offset="0.2411" stop-color="#358888"/><stop offset="0.2834" stop-color="#23718a"/><stop offset="0.3307" stop-color="#115593"/><stop offset="0.3555" stop-color="#0f4a98"/><stop offset="0.4003" stop-color="#222e9e"/><stop offset="0.4501" stop-color="#2a239f"/><stop offset="0.6219" stop-color="#2a2197"/><stop offset="0.7960" stop-color="#2a1e86"/><stop offset="1.0000" stop-color="#291b77"/></linearGradient><linearGradient id="g55" gradientUnits="userSpaceOnUse" x1="0" y1="91.3" x2="0" y2="490.4"><stop offset="0.0000" stop-color="#50b17c"/><stop offset="0.0075" stop-color="#50b17c"/><stop offset="0.0134" stop-color="#6dc56c"/><stop offset="0.0846" stop-color="#6dc56c"/><stop offset="0.1556" stop-color="#5eba75"/><stop offset="0.1929" stop-color="#4dac7e"/><stop offset="0.2401" stop-color="#358888"/><stop offset="0.2824" stop-color="#23718a"/><stop offset="0.3297" stop-color="#115593"/><stop offset="0.3546" stop-color="#0f4a98"/><stop offset="0.3993" stop-color="#222e9e"/><stop offset="0.4491" stop-color="#2a239f"/><stop offset="0.6219" stop-color="#2a2197"/><stop offset="0.7960" stop-color="#2a1e86"/><stop offset="1.0000" stop-color="#291b77"/></linearGradient><linearGradient id="g56" gradientUnits="userSpaceOnUse" x1="0" y1="91.3" x2="0" y2="490.4"><stop offset="0.0000" stop-color="#a2d65c"/><stop offset="0.0087" stop-color="#a2d65c"/><stop offset="0.0164" stop-color="#84cd64"/><stop offset="0.0299" stop-color="#6dc56c"/><stop offset="0.0846" stop-color="#6dc56c"/><stop offset="0.1546" stop-color="#5eba75"/><stop offset="0.1919" stop-color="#4dac7e"/><stop offset="0.2392" stop-color="#358888"/><stop offset="0.2815" stop-color="#23718a"/><stop offset="0.3287" stop-color="#115593"/><stop offset="0.3536" stop-color="#0f4a98"/><stop offset="0.3984" stop-color="#222e9e"/><stop offset="0.4481" stop-color="#2a239f"/><stop offset="0.6219" stop-color="#2a2197"/><stop offset="0.7960" stop-color="#2a1e86"/><stop offset="1.0000" stop-color="#291b77"/></linearGradient><linearGradient id="g57" gradientUnits="userSpaceOnUse" x1="0" y1="91.3" x2="0" y2="490.4"><stop offset="0.0000" stop-color="#c6de6a"/><stop offset="0.0188" stop-color="#c6de6a"/><stop offset="0.0308" stop-color="#93d25f"/><stop offset="0.0443" stop-color="#6dc56c"/><stop offset="0.0846" stop-color="#6dc56c"/><stop offset="0.1537" stop-color="#5eba75"/><stop offset="0.1910" stop-color="#4dac7e"/><stop offset="0.2382" stop-color="#358888"/><stop offset="0.2805" stop-color="#23718a"/><stop offset="0.3278" stop-color="#115593"/><stop offset="0.3527" stop-color="#0f4a98"/><stop offset="0.3974" stop-color="#222e9e"/><stop offset="0.4472" stop-color="#2a239f"/><stop offset="0.6219" stop-color="#2a2197"/><stop offset="0.7960" stop-color="#2a1e86"/><stop offset="1.0000" stop-color="#291b77"/></linearGradient><linearGradient id="g58" gradientUnits="userSpaceOnUse" x1="0" y1="91.3" x2="0" y2="490.4"><stop offset="0.0000" stop-color="#aed961"/><stop offset="0.0188" stop-color="#aed961"/><stop offset="0.0308" stop-color="#89ce63"/><stop offset="0.0443" stop-color="#6dc56c"/><stop offset="0.0846" stop-color="#6dc56c"/><stop offset="0.1527" stop-color="#5eba75"/><stop offset="0.1900" stop-color="#4dac7e"/><stop offset="0.2373" stop-color="#358888"/><stop offset="0.2796" stop-color="#23718a"/><stop offset="0.3268" stop-color="#115593"/><stop offset="0.3517" stop-color="#0f4a98"/><stop offset="0.3965" stop-color="#222e9e"/><stop offset="0.4462" stop-color="#2a239f"/><stop offset="0.6219" stop-color="#2a2197"/><stop offset="0.7960" stop-color="#2a1e86"/><stop offset="1.0000" stop-color="#291b77"/></linearGradient><linearGradient id="g59" gradientUnits="userSpaceOnUse" x1="0" y1="91.3" x2="0" y2="490.4"><stop offset="0.0000" stop-color="#aed961"/><stop offset="0.0160" stop-color="#aed961"/><stop offset="0.0269" stop-color="#89ce63"/><stop offset="0.0403" stop-color="#6dc56c"/><stop offset="0.0846" stop-color="#6dc56c"/><stop offset="0.1517" stop-color="#5eba75"/><stop offset="0.1891" stop-color="#4dac7e"/><stop offset="0.2363" stop-color="#358888"/><stop offset="0.2786" stop-color="#23718a"/><stop offset="0.3259" stop-color="#115593"/><stop offset="0.3507" stop-color="#0f4a98"/><stop offset="0.3955" stop-color="#222e9e"/><stop offset="0.4453" stop-color="#2a239f"/><stop offset="0.6219" stop-color="#2a2197"/><stop offset="0.7960" stop-color="#2a1e86"/><stop offset="1.0000" stop-color="#291b77"/></linearGradient><linearGradient id="g60" gradientUnits="userSpaceOnUse" x1="0" y1="91.3" x2="0" y2="490.4"><stop offset="0.0000" stop-color="#a2d65c"/><stop offset="0.0087" stop-color="#a2d65c"/><stop offset="0.0164" stop-color="#84cd64"/><stop offset="0.0299" stop-color="#6dc56c"/><stop offset="0.0846" stop-color="#6dc56c"/><stop offset="0.1546" stop-color="#5eba75"/><stop offset="0.1920" stop-color="#4dac7e"/><stop offset="0.2392" stop-color="#358888"/><stop offset="0.2815" stop-color="#23718a"/><stop offset="0.3288" stop-color="#115593"/><stop offset="0.3536" stop-color="#0f4a98"/><stop offset="0.3984" stop-color="#222e9e"/><stop offset="0.4482" stop-color="#2a239f"/><stop offset="0.6219" stop-color="#2a2197"/><stop offset="0.7960" stop-color="#2a1e86"/><stop offset="1.0000" stop-color="#291b77"/></linearGradient><linearGradient id="g61" gradientUnits="userSpaceOnUse" x1="0" y1="91.3" x2="0" y2="490.4"><stop offset="0.0000" stop-color="#c6de6a"/><stop offset="0.0188" stop-color="#c6de6a"/><stop offset="0.0308" stop-color="#93d25f"/><stop offset="0.0443" stop-color="#6dc56c"/><stop offset="0.0846" stop-color="#6dc56c"/><stop offset="0.1575" stop-color="#5eba75"/><stop offset="0.1949" stop-color="#4dac7e"/><stop offset="0.2421" stop-color="#358888"/><stop offset="0.2844" stop-color="#23718a"/><stop offset="0.3317" stop-color="#115593"/><stop offset="0.3566" stop-color="#0f4a98"/><stop offset="0.4013" stop-color="#222e9e"/><stop offset="0.4511" stop-color="#2a239f"/><stop offset="0.6219" stop-color="#2a2197"/><stop offset="0.7960" stop-color="#2a1e86"/><stop offset="1.0000" stop-color="#291b77"/></linearGradient><linearGradient id="g62" gradientUnits="userSpaceOnUse" x1="0" y1="91.3" x2="0" y2="490.4"><stop offset="0.0000" stop-color="#aed961"/><stop offset="0.0306" stop-color="#aed961"/><stop offset="0.0478" stop-color="#89ce63"/><stop offset="0.0612" stop-color="#6dc56c"/><stop offset="0.0846" stop-color="#6dc56c"/><stop offset="0.1604" stop-color="#5eba75"/><stop offset="0.1978" stop-color="#4dac7e"/><stop offset="0.2450" stop-color="#358888"/><stop offset="0.2873" stop-color="#23718a"/><stop offset="0.3346" stop-color="#115593"/><stop offset="0.3595" stop-color="#0f4a98"/><stop offset="0.4042" stop-color="#222e9e"/><stop offset="0.4540" stop-color="#2a239f"/><stop offset="0.6219" stop-color="#2a2197"/><stop offset="0.7960" stop-color="#2a1e86"/><stop offset="1.0000" stop-color="#291b77"/></linearGradient><linearGradient id="g63" gradientUnits="userSpaceOnUse" x1="0" y1="91.3" x2="0" y2="490.4"><stop offset="0.0000" stop-color="#aed961"/><stop offset="0.0306" stop-color="#aed961"/><stop offset="0.0478" stop-color="#89ce63"/><stop offset="0.0612" stop-color="#6dc56c"/><stop offset="0.0846" stop-color="#6dc56c"/><stop offset="0.1633" stop-color="#5eba75"/><stop offset="0.2007" stop-color="#4dac7e"/><stop offset="0.2479" stop-color="#358888"/><stop offset="0.2902" stop-color="#23718a"/><stop offset="0.3375" stop-color="#115593"/><stop offset="0.3624" stop-color="#0f4a98"/><stop offset="0.4071" stop-color="#222e9e"/><stop offset="0.4569" stop-color="#2a239f"/><stop offset="0.6219" stop-color="#2a2197"/><stop offset="0.7960" stop-color="#2a1e86"/><stop offset="1.0000" stop-color="#291b77"/></linearGradient><linearGradient id="g64" gradientUnits="userSpaceOnUse" x1="0" y1="91.3" x2="0" y2="490.4"><stop offset="0.0000" stop-color="#a2d65c"/><stop offset="0.0306" stop-color="#a2d65c"/><stop offset="0.0478" stop-color="#84cd64"/><stop offset="0.0612" stop-color="#6dc56c"/><stop offset="0.0846" stop-color="#6dc56c"/><stop offset="0.1663" stop-color="#5eba75"/><stop offset="0.2036" stop-color="#4dac7e"/><stop offset="0.2508" stop-color="#358888"/><stop offset="0.2931" stop-color="#23718a"/><stop offset="0.3404" stop-color="#115593"/><stop offset="0.3653" stop-color="#0f4a98"/><stop offset="0.4100" stop-color="#222e9e"/><stop offset="0.4598" stop-color="#2a239f"/><stop offset="0.6219" stop-color="#2a2197"/><stop offset="0.7960" stop-color="#2a1e86"/><stop offset="1.0000" stop-color="#291b77"/></linearGradient><linearGradient id="g65" gradientUnits="userSpaceOnUse" x1="0" y1="91.3" x2="0" y2="490.4"><stop offset="0.0000" stop-color="#aed961"/><stop offset="0.0286" stop-color="#aed961"/><stop offset="0.0448" stop-color="#89ce63"/><stop offset="0.0582" stop-color="#6dc56c"/><stop offset="0.0846" stop-color="#6dc56c"/><stop offset="0.1692" stop-color="#5eba75"/><stop offset="0.2065" stop-color="#4dac7e"/><stop offset="0.2537" stop-color="#358888"/><stop offset="0.2960" stop-color="#23718a"/><stop offset="0.3433" stop-color="#115593"/><stop offset="0.3682" stop-color="#0f4a98"/><stop offset="0.4129" stop-color="#222e9e"/><stop offset="0.4627" stop-color="#2a239f"/><stop offset="0.6219" stop-color="#2a2197"/><stop offset="0.7960" stop-color="#2a1e86"/><stop offset="1.0000" stop-color="#291b77"/></linearGradient><linearGradient id="g66" gradientUnits="userSpaceOnUse" x1="0" y1="91.3" x2="0" y2="490.4"><stop offset="0.0000" stop-color="#a2d65c"/><stop offset="0.0338" stop-color="#a2d65c"/><stop offset="0.0522" stop-color="#84cd64"/><stop offset="0.0657" stop-color="#6dc56c"/><stop offset="0.0846" stop-color="#6dc56c"/><stop offset="0.1709" stop-color="#5eba75"/><stop offset="0.2082" stop-color="#4dac7e"/><stop offset="0.2555" stop-color="#358888"/><stop offset="0.2978" stop-color="#23718a"/><stop offset="0.3450" stop-color="#115593"/><stop offset="0.3699" stop-color="#0f4a98"/><stop offset="0.4147" stop-color="#222e9e"/><stop offset="0.4644" stop-color="#2a239f"/><stop offset="0.6219" stop-color="#2a2197"/><stop offset="0.7960" stop-color="#2a1e86"/><stop offset="1.0000" stop-color="#291b77"/></linearGradient><linearGradient id="g67" gradientUnits="userSpaceOnUse" x1="0" y1="91.3" x2="0" y2="490.4"><stop offset="0.0000" stop-color="#6dc56c"/><stop offset="0.0846" stop-color="#6dc56c"/><stop offset="0.1726" stop-color="#5eba75"/><stop offset="0.2100" stop-color="#4dac7e"/><stop offset="0.2572" stop-color="#358888"/><stop offset="0.2995" stop-color="#23718a"/><stop offset="0.3468" stop-color="#115593"/><stop offset="0.3716" stop-color="#0f4a98"/><stop offset="0.4164" stop-color="#222e9e"/><stop offset="0.4662" stop-color="#2a239f"/><stop offset="0.6219" stop-color="#2a2197"/><stop offset="0.7960" stop-color="#2a1e86"/><stop offset="1.0000" stop-color="#291b77"/></linearGradient><linearGradient id="g68" gradientUnits="userSpaceOnUse" x1="0" y1="91.3" x2="0" y2="490.4"><stop offset="0.0000" stop-color="#6dc56c"/><stop offset="0.0846" stop-color="#6dc56c"/><stop offset="0.1744" stop-color="#5eba75"/><stop offset="0.2117" stop-color="#4dac7e"/><stop offset="0.2590" stop-color="#358888"/><stop offset="0.3012" stop-color="#23718a"/><stop offset="0.3485" stop-color="#115593"/><stop offset="0.3734" stop-color="#0f4a98"/><stop offset="0.4182" stop-color="#222e9e"/><stop offset="0.4679" stop-color="#2a239f"/><stop offset="0.6219" stop-color="#2a2197"/><stop offset="0.7960" stop-color="#2a1e86"/><stop offset="1.0000" stop-color="#291b77"/></linearGradient><linearGradient id="g69" gradientUnits="userSpaceOnUse" x1="0" y1="91.3" x2="0" y2="490.4"><stop offset="0.0000" stop-color="#96d35e"/><stop offset="0.0209" stop-color="#96d35e"/><stop offset="0.0338" stop-color="#7fcb66"/><stop offset="0.0473" stop-color="#6dc56c"/><stop offset="0.0846" stop-color="#6dc56c"/><stop offset="0.1761" stop-color="#5eba75"/><stop offset="0.2134" stop-color="#4dac7e"/><stop offset="0.2607" stop-color="#358888"/><stop offset="0.3030" stop-color="#23718a"/><stop offset="0.3502" stop-color="#115593"/><stop offset="0.3751" stop-color="#0f4a98"/><stop offset="0.4199" stop-color="#222e9e"/><stop offset="0.4697" stop-color="#2a239f"/><stop offset="0.6219" stop-color="#2a2197"/><stop offset="0.7960" stop-color="#2a1e86"/><stop offset="1.0000" stop-color="#291b77"/></linearGradient><linearGradient id="g70" gradientUnits="userSpaceOnUse" x1="0" y1="91.3" x2="0" y2="490.4"><stop offset="0.0000" stop-color="#5eba75"/><stop offset="0.0149" stop-color="#5eba75"/><stop offset="0.0209" stop-color="#6dc56c"/><stop offset="0.0846" stop-color="#6dc56c"/><stop offset="0.1779" stop-color="#5eba75"/><stop offset="0.2152" stop-color="#4dac7e"/><stop offset="0.2624" stop-color="#358888"/><stop offset="0.3047" stop-color="#23718a"/><stop offset="0.3520" stop-color="#115593"/><stop offset="0.3769" stop-color="#0f4a98"/><stop offset="0.4216" stop-color="#222e9e"/><stop offset="0.4714" stop-color="#2a239f"/><stop offset="0.6219" stop-color="#2a2197"/><stop offset="0.7960" stop-color="#2a1e86"/><stop offset="1.0000" stop-color="#291b77"/></linearGradient><linearGradient id="g71" gradientUnits="userSpaceOnUse" x1="0" y1="91.3" x2="0" y2="490.4"><stop offset="0.0000" stop-color="#96d35e"/><stop offset="0.0174" stop-color="#96d35e"/><stop offset="0.0289" stop-color="#7fcb66"/><stop offset="0.0423" stop-color="#6dc56c"/><stop offset="0.0846" stop-color="#6dc56c"/><stop offset="0.1796" stop-color="#5eba75"/><stop offset="0.2169" stop-color="#4dac7e"/><stop offset="0.2642" stop-color="#358888"/><stop offset="0.3065" stop-color="#23718a"/><stop offset="0.3537" stop-color="#115593"/><stop offset="0.3786" stop-color="#0f4a98"/><stop offset="0.4234" stop-color="#222e9e"/><stop offset="0.4731" stop-color="#2a239f"/><stop offset="0.6219" stop-color="#2a2197"/><stop offset="0.7960" stop-color="#2a1e86"/><stop offset="1.0000" stop-color="#291b77"/></linearGradient><linearGradient id="g72" gradientUnits="userSpaceOnUse" x1="0" y1="91.3" x2="0" y2="490.4"><stop offset="0.0000" stop-color="#aed961"/><stop offset="0.0212" stop-color="#aed961"/><stop offset="0.0343" stop-color="#89ce63"/><stop offset="0.0478" stop-color="#6dc56c"/><stop offset="0.0846" stop-color="#6dc56c"/><stop offset="0.1790" stop-color="#5eba75"/><stop offset="0.2163" stop-color="#4dac7e"/><stop offset="0.2636" stop-color="#358888"/><stop offset="0.3059" stop-color="#23718a"/><stop offset="0.3531" stop-color="#115593"/><stop offset="0.3780" stop-color="#0f4a98"/><stop offset="0.4228" stop-color="#222e9e"/><stop offset="0.4725" stop-color="#2a239f"/><stop offset="0.6219" stop-color="#2a2197"/><stop offset="0.7960" stop-color="#2a1e86"/><stop offset="1.0000" stop-color="#291b77"/></linearGradient><linearGradient id="g73" gradientUnits="userSpaceOnUse" x1="0" y1="91.3" x2="0" y2="490.4"><stop offset="0.0000" stop-color="#aed961"/><stop offset="0.0251" stop-color="#aed961"/><stop offset="0.0398" stop-color="#89ce63"/><stop offset="0.0532" stop-color="#6dc56c"/><stop offset="0.0846" stop-color="#6dc56c"/><stop offset="0.1784" stop-color="#5eba75"/><stop offset="0.2157" stop-color="#4dac7e"/><stop offset="0.2630" stop-color="#358888"/><stop offset="0.3053" stop-color="#23718a"/><stop offset="0.3525" stop-color="#115593"/><stop offset="0.3774" stop-color="#0f4a98"/><stop offset="0.4222" stop-color="#222e9e"/><stop offset="0.4719" stop-color="#2a239f"/><stop offset="0.6219" stop-color="#2a2197"/><stop offset="0.7960" stop-color="#2a1e86"/><stop offset="1.0000" stop-color="#291b77"/></linearGradient><linearGradient id="g74" gradientUnits="userSpaceOnUse" x1="0" y1="91.3" x2="0" y2="490.4"><stop offset="0.0000" stop-color="#aed961"/><stop offset="0.0237" stop-color="#aed961"/><stop offset="0.0378" stop-color="#89ce63"/><stop offset="0.0512" stop-color="#6dc56c"/><stop offset="0.0846" stop-color="#6dc56c"/><stop offset="0.1778" stop-color="#5eba75"/><stop offset="0.2151" stop-color="#4dac7e"/><stop offset="0.2624" stop-color="#358888"/><stop offset="0.3046" stop-color="#23718a"/><stop offset="0.3519" stop-color="#115593"/><stop offset="0.3768" stop-color="#0f4a98"/><stop offset="0.4216" stop-color="#222e9e"/><stop offset="0.4713" stop-color="#2a239f"/><stop offset="0.6219" stop-color="#2a2197"/><stop offset="0.7960" stop-color="#2a1e86"/><stop offset="1.0000" stop-color="#291b77"/></linearGradient><linearGradient id="g75" gradientUnits="userSpaceOnUse" x1="0" y1="91.3" x2="0" y2="490.4"><stop offset="0.0000" stop-color="#aed961"/><stop offset="0.0251" stop-color="#aed961"/><stop offset="0.0398" stop-color="#89ce63"/><stop offset="0.0532" stop-color="#6dc56c"/><stop offset="0.0846" stop-color="#6dc56c"/><stop offset="0.1772" stop-color="#5eba75"/><stop offset="0.2145" stop-color="#4dac7e"/><stop offset="0.2617" stop-color="#358888"/><stop offset="0.3040" stop-color="#23718a"/><stop offset="0.3513" stop-color="#115593"/><stop offset="0.3762" stop-color="#0f4a98"/><stop offset="0.4210" stop-color="#222e9e"/><stop offset="0.4707" stop-color="#2a239f"/><stop offset="0.6219" stop-color="#2a2197"/><stop offset="0.7960" stop-color="#2a1e86"/><stop offset="1.0000" stop-color="#291b77"/></linearGradient><linearGradient id="g76" gradientUnits="userSpaceOnUse" x1="0" y1="91.3" x2="0" y2="490.4"><stop offset="0.0000" stop-color="#aed961"/><stop offset="0.0313" stop-color="#aed961"/><stop offset="0.0488" stop-color="#89ce63"/><stop offset="0.0622" stop-color="#6dc56c"/><stop offset="0.0846" stop-color="#6dc56c"/><stop offset="0.1766" stop-color="#5eba75"/><stop offset="0.2139" stop-color="#4dac7e"/><stop offset="0.2611" stop-color="#358888"/><stop offset="0.3034" stop-color="#23718a"/><stop offset="0.3507" stop-color="#115593"/><stop offset="0.3756" stop-color="#0f4a98"/><stop offset="0.4203" stop-color="#222e9e"/><stop offset="0.4701" stop-color="#2a239f"/><stop offset="0.6219" stop-color="#2a2197"/><stop offset="0.7960" stop-color="#2a1e86"/><stop offset="1.0000" stop-color="#291b77"/></linearGradient><linearGradient id="g77" gradientUnits="userSpaceOnUse" x1="0" y1="91.3" x2="0" y2="490.4"><stop offset="0.0000" stop-color="#aed961"/><stop offset="0.0362" stop-color="#aed961"/><stop offset="0.0557" stop-color="#89ce63"/><stop offset="0.0692" stop-color="#6dc56c"/><stop offset="0.0846" stop-color="#6dc56c"/><stop offset="0.1760" stop-color="#5eba75"/><stop offset="0.2133" stop-color="#4dac7e"/><stop offset="0.2605" stop-color="#358888"/><stop offset="0.3028" stop-color="#23718a"/><stop offset="0.3501" stop-color="#115593"/><stop offset="0.3750" stop-color="#0f4a98"/><stop offset="0.4197" stop-color="#222e9e"/><stop offset="0.4695" stop-color="#2a239f"/><stop offset="0.6219" stop-color="#2a2197"/><stop offset="0.7960" stop-color="#2a1e86"/><stop offset="1.0000" stop-color="#291b77"/></linearGradient><linearGradient id="g78" gradientUnits="userSpaceOnUse" x1="0" y1="91.3" x2="0" y2="490.4"><stop offset="0.0000" stop-color="#aed961"/><stop offset="0.0390" stop-color="#aed961"/><stop offset="0.0597" stop-color="#89ce63"/><stop offset="0.0731" stop-color="#6dc56c"/><stop offset="0.0846" stop-color="#6dc56c"/><stop offset="0.1753" stop-color="#5eba75"/><stop offset="0.2127" stop-color="#4dac7e"/><stop offset="0.2599" stop-color="#358888"/><stop offset="0.3022" stop-color="#23718a"/><stop offset="0.3495" stop-color="#115593"/><stop offset="0.3744" stop-color="#0f4a98"/><stop offset="0.4191" stop-color="#222e9e"/><stop offset="0.4689" stop-color="#2a239f"/><stop offset="0.6219" stop-color="#2a2197"/><stop offset="0.7960" stop-color="#2a1e86"/><stop offset="1.0000" stop-color="#291b77"/></linearGradient><linearGradient id="g79" gradientUnits="userSpaceOnUse" x1="0" y1="91.3" x2="0" y2="490.4"><stop offset="0.0000" stop-color="#aed961"/><stop offset="0.0390" stop-color="#aed961"/><stop offset="0.0597" stop-color="#89ce63"/><stop offset="0.0731" stop-color="#6dc56c"/><stop offset="0.0846" stop-color="#6dc56c"/><stop offset="0.1747" stop-color="#5eba75"/><stop offset="0.2121" stop-color="#4dac7e"/><stop offset="0.2593" stop-color="#358888"/><stop offset="0.3016" stop-color="#23718a"/><stop offset="0.3489" stop-color="#115593"/><stop offset="0.3737" stop-color="#0f4a98"/><stop offset="0.4185" stop-color="#222e9e"/><stop offset="0.4683" stop-color="#2a239f"/><stop offset="0.6219" stop-color="#2a2197"/><stop offset="0.7960" stop-color="#2a1e86"/><stop offset="1.0000" stop-color="#291b77"/></linearGradient><linearGradient id="g80" gradientUnits="userSpaceOnUse" x1="0" y1="91.3" x2="0" y2="490.4"><stop offset="0.0000" stop-color="#b3da63"/><stop offset="0.0463" stop-color="#b3da63"/><stop offset="0.0701" stop-color="#8bcf62"/><stop offset="0.0836" stop-color="#6dc56c"/><stop offset="0.0886" stop-color="#6dc56c"/><stop offset="0.1741" stop-color="#5eba75"/><stop offset="0.2114" stop-color="#4dac7e"/><stop offset="0.2587" stop-color="#358888"/><stop offset="0.3010" stop-color="#23718a"/><stop offset="0.3483" stop-color="#115593"/><stop offset="0.3731" stop-color="#0f4a98"/><stop offset="0.4179" stop-color="#222e9e"/><stop offset="0.4677" stop-color="#2a239f"/><stop offset="0.6219" stop-color="#2a2197"/><stop offset="0.7960" stop-color="#2a1e86"/><stop offset="1.0000" stop-color="#291b77"/></linearGradient><linearGradient id="g81" gradientUnits="userSpaceOnUse" x1="0" y1="91.3" x2="0" y2="490.4"><stop offset="0.0000" stop-color="#b3da63"/><stop offset="0.0414" stop-color="#b3da63"/><stop offset="0.0632" stop-color="#8bcf62"/><stop offset="0.0766" stop-color="#6dc56c"/><stop offset="0.0846" stop-color="#6dc56c"/><stop offset="0.1736" stop-color="#5eba75"/><stop offset="0.2109" stop-color="#4dac7e"/><stop offset="0.2582" stop-color="#358888"/><stop offset="0.3005" stop-color="#23718a"/><stop offset="0.3478" stop-color="#115593"/><stop offset="0.3726" stop-color="#0f4a98"/><stop offset="0.4174" stop-color="#222e9e"/><stop offset="0.4672" stop-color="#2a239f"/><stop offset="0.6219" stop-color="#2a2197"/><stop offset="0.7960" stop-color="#2a1e86"/><stop offset="1.0000" stop-color="#291b77"/></linearGradient><linearGradient id="g82" gradientUnits="userSpaceOnUse" x1="0" y1="91.3" x2="0" y2="490.4"><stop offset="0.0000" stop-color="#b3da63"/><stop offset="0.0414" stop-color="#b3da63"/><stop offset="0.0632" stop-color="#8bcf62"/><stop offset="0.0766" stop-color="#6dc56c"/><stop offset="0.0846" stop-color="#6dc56c"/><stop offset="0.1731" stop-color="#5eba75"/><stop offset="0.2104" stop-color="#4dac7e"/><stop offset="0.2577" stop-color="#358888"/><stop offset="0.3000" stop-color="#23718a"/><stop offset="0.3473" stop-color="#115593"/><stop offset="0.3721" stop-color="#0f4a98"/><stop offset="0.4169" stop-color="#222e9e"/><stop offset="0.4667" stop-color="#2a239f"/><stop offset="0.6219" stop-color="#2a2197"/><stop offset="0.7960" stop-color="#2a1e86"/><stop offset="1.0000" stop-color="#291b77"/></linearGradient><linearGradient id="g83" gradientUnits="userSpaceOnUse" x1="0" y1="91.3" x2="0" y2="490.4"><stop offset="0.0000" stop-color="#aed961"/><stop offset="0.0251" stop-color="#aed961"/><stop offset="0.0398" stop-color="#89ce63"/><stop offset="0.0532" stop-color="#6dc56c"/><stop offset="0.0846" stop-color="#6dc56c"/><stop offset="0.1726" stop-color="#5eba75"/><stop offset="0.2100" stop-color="#4dac7e"/><stop offset="0.2572" stop-color="#358888"/><stop offset="0.2995" stop-color="#23718a"/><stop offset="0.3468" stop-color="#115593"/><stop offset="0.3716" stop-color="#0f4a98"/><stop offset="0.4164" stop-color="#222e9e"/><stop offset="0.4662" stop-color="#2a239f"/><stop offset="0.6219" stop-color="#2a2197"/><stop offset="0.7960" stop-color="#2a1e86"/><stop offset="1.0000" stop-color="#291b77"/></linearGradient><linearGradient id="g84" gradientUnits="userSpaceOnUse" x1="0" y1="91.3" x2="0" y2="490.4"><stop offset="0.0000" stop-color="#aed961"/><stop offset="0.0289" stop-color="#aed961"/><stop offset="0.0453" stop-color="#89ce63"/><stop offset="0.0587" stop-color="#6dc56c"/><stop offset="0.0846" stop-color="#6dc56c"/><stop offset="0.1721" stop-color="#5eba75"/><stop offset="0.2095" stop-color="#4dac7e"/><stop offset="0.2567" stop-color="#358888"/><stop offset="0.2990" stop-color="#23718a"/><stop offset="0.3463" stop-color="#115593"/><stop offset="0.3711" stop-color="#0f4a98"/><stop offset="0.4159" stop-color="#222e9e"/><stop offset="0.4657" stop-color="#2a239f"/><stop offset="0.6219" stop-color="#2a2197"/><stop offset="0.7960" stop-color="#2a1e86"/><stop offset="1.0000" stop-color="#291b77"/></linearGradient><linearGradient id="g85" gradientUnits="userSpaceOnUse" x1="0" y1="91.3" x2="0" y2="490.4"><stop offset="0.0000" stop-color="#b3da63"/><stop offset="0.0463" stop-color="#b3da63"/><stop offset="0.0701" stop-color="#8bcf62"/><stop offset="0.0836" stop-color="#6dc56c"/><stop offset="0.0886" stop-color="#6dc56c"/><stop offset="0.1716" stop-color="#5eba75"/><stop offset="0.2090" stop-color="#4dac7e"/><stop offset="0.2562" stop-color="#358888"/><stop offset="0.2985" stop-color="#23718a"/><stop offset="0.3458" stop-color="#115593"/><stop offset="0.3706" stop-color="#0f4a98"/><stop offset="0.4154" stop-color="#222e9e"/><stop offset="0.4652" stop-color="#2a239f"/><stop offset="0.6219" stop-color="#2a2197"/><stop offset="0.7960" stop-color="#2a1e86"/><stop offset="1.0000" stop-color="#291b77"/></linearGradient><linearGradient id="g86" gradientUnits="userSpaceOnUse" x1="0" y1="91.3" x2="0" y2="490.4"><stop offset="0.0000" stop-color="#aed961"/><stop offset="0.0289" stop-color="#aed961"/><stop offset="0.0453" stop-color="#89ce63"/><stop offset="0.0587" stop-color="#6dc56c"/><stop offset="0.0846" stop-color="#6dc56c"/><stop offset="0.1711" stop-color="#5eba75"/><stop offset="0.2085" stop-color="#4dac7e"/><stop offset="0.2557" stop-color="#358888"/><stop offset="0.2980" stop-color="#23718a"/><stop offset="0.3453" stop-color="#115593"/><stop offset="0.3701" stop-color="#0f4a98"/><stop offset="0.4149" stop-color="#222e9e"/><stop offset="0.4647" stop-color="#2a239f"/><stop offset="0.6219" stop-color="#2a2197"/><stop offset="0.7960" stop-color="#2a1e86"/><stop offset="1.0000" stop-color="#291b77"/></linearGradient><linearGradient id="g87" gradientUnits="userSpaceOnUse" x1="0" y1="91.3" x2="0" y2="490.4"><stop offset="0.0000" stop-color="#aed961"/><stop offset="0.0251" stop-color="#aed961"/><stop offset="0.0398" stop-color="#89ce63"/><stop offset="0.0532" stop-color="#6dc56c"/><stop offset="0.0846" stop-color="#6dc56c"/><stop offset="0.1706" stop-color="#5eba75"/><stop offset="0.2080" stop-color="#4dac7e"/><stop offset="0.2552" stop-color="#358888"/><stop offset="0.2975" stop-color="#23718a"/><stop offset="0.3448" stop-color="#115593"/><stop offset="0.3697" stop-color="#0f4a98"/><stop offset="0.4144" stop-color="#222e9e"/><stop offset="0.4642" stop-color="#2a239f"/><stop offset="0.6219" stop-color="#2a2197"/><stop offset="0.7960" stop-color="#2a1e86"/><stop offset="1.0000" stop-color="#291b77"/></linearGradient><linearGradient id="g88" gradientUnits="userSpaceOnUse" x1="0" y1="91.3" x2="0" y2="490.4"><stop offset="0.0000" stop-color="#b3da63"/><stop offset="0.0488" stop-color="#b3da63"/><stop offset="0.0736" stop-color="#8bcf62"/><stop offset="0.0871" stop-color="#6dc56c"/><stop offset="0.0920" stop-color="#6dc56c"/><stop offset="0.1701" stop-color="#5eba75"/><stop offset="0.2075" stop-color="#4dac7e"/><stop offset="0.2547" stop-color="#358888"/><stop offset="0.2970" stop-color="#23718a"/><stop offset="0.3443" stop-color="#115593"/><stop offset="0.3692" stop-color="#0f4a98"/><stop offset="0.4139" stop-color="#222e9e"/><stop offset="0.4637" stop-color="#2a239f"/><stop offset="0.6219" stop-color="#2a2197"/><stop offset="0.7960" stop-color="#2a1e86"/><stop offset="1.0000" stop-color="#291b77"/></linearGradient><linearGradient id="g89" gradientUnits="userSpaceOnUse" x1="0" y1="91.3" x2="0" y2="490.4"><stop offset="0.0000" stop-color="#aed961"/><stop offset="0.0251" stop-color="#aed961"/><stop offset="0.0398" stop-color="#89ce63"/><stop offset="0.0532" stop-color="#6dc56c"/><stop offset="0.0846" stop-color="#6dc56c"/><stop offset="0.1697" stop-color="#5eba75"/><stop offset="0.2070" stop-color="#4dac7e"/><stop offset="0.2542" stop-color="#358888"/><stop offset="0.2965" stop-color="#23718a"/><stop offset="0.3438" stop-color="#115593"/><stop offset="0.3687" stop-color="#0f4a98"/><stop offset="0.4134" stop-color="#222e9e"/><stop offset="0.4632" stop-color="#2a239f"/><stop offset="0.6219" stop-color="#2a2197"/><stop offset="0.7960" stop-color="#2a1e86"/><stop offset="1.0000" stop-color="#291b77"/></linearGradient><linearGradient id="g90" gradientUnits="userSpaceOnUse" x1="0" y1="91.3" x2="0" y2="490.4"><stop offset="0.0000" stop-color="#aed961"/><stop offset="0.0164" stop-color="#aed961"/><stop offset="0.0274" stop-color="#89ce63"/><stop offset="0.0408" stop-color="#6dc56c"/><stop offset="0.0846" stop-color="#6dc56c"/><stop offset="0.1692" stop-color="#5eba75"/><stop offset="0.2065" stop-color="#4dac7e"/><stop offset="0.2537" stop-color="#358888"/><stop offset="0.2960" stop-color="#23718a"/><stop offset="0.3433" stop-color="#115593"/><stop offset="0.3682" stop-color="#0f4a98"/><stop offset="0.4129" stop-color="#222e9e"/><stop offset="0.4627" stop-color="#2a239f"/><stop offset="0.6219" stop-color="#2a2197"/><stop offset="0.7960" stop-color="#2a1e86"/><stop offset="1.0000" stop-color="#291b77"/></linearGradient><linearGradient id="g91" gradientUnits="userSpaceOnUse" x1="0" y1="91.3" x2="0" y2="490.4"><stop offset="0.0000" stop-color="#aed961"/><stop offset="0.0188" stop-color="#aed961"/><stop offset="0.0308" stop-color="#89ce63"/><stop offset="0.0443" stop-color="#6dc56c"/><stop offset="0.0846" stop-color="#6dc56c"/><stop offset="0.1697" stop-color="#5eba75"/><stop offset="0.2070" stop-color="#4dac7e"/><stop offset="0.2543" stop-color="#358888"/><stop offset="0.2966" stop-color="#23718a"/><stop offset="0.3438" stop-color="#115593"/><stop offset="0.3687" stop-color="#0f4a98"/><stop offset="0.4135" stop-color="#222e9e"/><stop offset="0.4632" stop-color="#2a239f"/><stop offset="0.6219" stop-color="#2a2197"/><stop offset="0.7960" stop-color="#2a1e86"/><stop offset="1.0000" stop-color="#291b77"/></linearGradient><linearGradient id="g92" gradientUnits="userSpaceOnUse" x1="0" y1="91.3" x2="0" y2="490.4"><stop offset="0.0000" stop-color="#aed961"/><stop offset="0.0160" stop-color="#aed961"/><stop offset="0.0269" stop-color="#89ce63"/><stop offset="0.0403" stop-color="#6dc56c"/><stop offset="0.0846" stop-color="#6dc56c"/><stop offset="0.1702" stop-color="#5eba75"/><stop offset="0.2075" stop-color="#4dac7e"/><stop offset="0.2548" stop-color="#358888"/><stop offset="0.2971" stop-color="#23718a"/><stop offset="0.3443" stop-color="#115593"/><stop offset="0.3692" stop-color="#0f4a98"/><stop offset="0.4140" stop-color="#222e9e"/><stop offset="0.4638" stop-color="#2a239f"/><stop offset="0.6219" stop-color="#2a2197"/><stop offset="0.7960" stop-color="#2a1e86"/><stop offset="1.0000" stop-color="#291b77"/></linearGradient><linearGradient id="g93" gradientUnits="userSpaceOnUse" x1="0" y1="91.3" x2="0" y2="490.4"><stop offset="0.0000" stop-color="#45a383"/><stop offset="0.0040" stop-color="#4dac7e"/><stop offset="0.0090" stop-color="#96d35e"/><stop offset="0.0224" stop-color="#96d35e"/><stop offset="0.0398" stop-color="#6dc56c"/><stop offset="0.0846" stop-color="#6dc56c"/><stop offset="0.1393" stop-color="#5eba75"/><stop offset="0.1791" stop-color="#49a880"/><stop offset="0.2438" stop-color="#338688"/><stop offset="0.2935" stop-color="#216e8a"/><stop offset="0.3358" stop-color="#115593"/><stop offset="0.3582" stop-color="#0f4a98"/><stop offset="0.4030" stop-color="#222e9e"/><stop offset="0.4527" stop-color="#2a229a"/><stop offset="0.6468" stop-color="#2a2092"/><stop offset="0.7960" stop-color="#2a1e86"/><stop offset="1.0000" stop-color="#291b77"/></linearGradient><linearGradient id="g94" gradientUnits="userSpaceOnUse" x1="0" y1="91.3" x2="0" y2="490.4"><stop offset="0.0000" stop-color="#a2d65c"/><stop offset="0.0049" stop-color="#a2d65c"/><stop offset="0.0109" stop-color="#84cd64"/><stop offset="0.0244" stop-color="#6dc56c"/><stop offset="0.0846" stop-color="#6dc56c"/><stop offset="0.1713" stop-color="#5eba75"/><stop offset="0.2086" stop-color="#4dac7e"/><stop offset="0.2559" stop-color="#358888"/><stop offset="0.2982" stop-color="#23718a"/><stop offset="0.3454" stop-color="#115593"/><stop offset="0.3703" stop-color="#0f4a98"/><stop offset="0.4151" stop-color="#222e9e"/><stop offset="0.4648" stop-color="#2a239f"/><stop offset="0.6219" stop-color="#2a2197"/><stop offset="0.7960" stop-color="#2a1e86"/><stop offset="1.0000" stop-color="#291b77"/></linearGradient><linearGradient id="g95" gradientUnits="userSpaceOnUse" x1="0" y1="91.3" x2="0" y2="490.4"><stop offset="0.0000" stop-color="#aed961"/><stop offset="0.0129" stop-color="#aed961"/><stop offset="0.0224" stop-color="#89ce63"/><stop offset="0.0358" stop-color="#6dc56c"/><stop offset="0.0846" stop-color="#6dc56c"/><stop offset="0.1718" stop-color="#5eba75"/><stop offset="0.2091" stop-color="#4dac7e"/><stop offset="0.2564" stop-color="#358888"/><stop offset="0.2987" stop-color="#23718a"/><stop offset="0.3459" stop-color="#115593"/><stop offset="0.3708" stop-color="#0f4a98"/><stop offset="0.4156" stop-color="#222e9e"/><stop offset="0.4654" stop-color="#2a239f"/><stop offset="0.6219" stop-color="#2a2197"/><stop offset="0.7960" stop-color="#2a1e86"/><stop offset="1.0000" stop-color="#291b77"/></linearGradient><linearGradient id="g96" gradientUnits="userSpaceOnUse" x1="0" y1="91.3" x2="0" y2="490.4"><stop offset="0.0000" stop-color="#aed961"/><stop offset="0.0157" stop-color="#aed961"/><stop offset="0.0264" stop-color="#89ce63"/><stop offset="0.0398" stop-color="#6dc56c"/><stop offset="0.0846" stop-color="#6dc56c"/><stop offset="0.1724" stop-color="#5eba75"/><stop offset="0.2097" stop-color="#4dac7e"/><stop offset="0.2569" stop-color="#358888"/><stop offset="0.2992" stop-color="#23718a"/><stop offset="0.3465" stop-color="#115593"/><stop offset="0.3714" stop-color="#0f4a98"/><stop offset="0.4161" stop-color="#222e9e"/><stop offset="0.4659" stop-color="#2a239f"/><stop offset="0.6219" stop-color="#2a2197"/><stop offset="0.7960" stop-color="#2a1e86"/><stop offset="1.0000" stop-color="#291b77"/></linearGradient><linearGradient id="g97" gradientUnits="userSpaceOnUse" x1="0" y1="91.3" x2="0" y2="490.4"><stop offset="0.0000" stop-color="#aed961"/><stop offset="0.0265" stop-color="#aed961"/><stop offset="0.0418" stop-color="#89ce63"/><stop offset="0.0552" stop-color="#6dc56c"/><stop offset="0.0846" stop-color="#6dc56c"/><stop offset="0.1729" stop-color="#5eba75"/><stop offset="0.2102" stop-color="#4dac7e"/><stop offset="0.2575" stop-color="#358888"/><stop offset="0.2998" stop-color="#23718a"/><stop offset="0.3470" stop-color="#115593"/><stop offset="0.3719" stop-color="#0f4a98"/><stop offset="0.4167" stop-color="#222e9e"/><stop offset="0.4664" stop-color="#2a239f"/><stop offset="0.6219" stop-color="#2a2197"/><stop offset="0.7960" stop-color="#2a1e86"/><stop offset="1.0000" stop-color="#291b77"/></linearGradient><linearGradient id="g98" gradientUnits="userSpaceOnUse" x1="0" y1="91.3" x2="0" y2="490.4"><stop offset="0.0000" stop-color="#aed961"/><stop offset="0.0212" stop-color="#aed961"/><stop offset="0.0343" stop-color="#89ce63"/><stop offset="0.0478" stop-color="#6dc56c"/><stop offset="0.0846" stop-color="#6dc56c"/><stop offset="0.1734" stop-color="#5eba75"/><stop offset="0.2107" stop-color="#4dac7e"/><stop offset="0.2580" stop-color="#358888"/><stop offset="0.3003" stop-color="#23718a"/><stop offset="0.3475" stop-color="#115593"/><stop offset="0.3724" stop-color="#0f4a98"/><stop offset="0.4172" stop-color="#222e9e"/><stop offset="0.4670" stop-color="#2a239f"/><stop offset="0.6219" stop-color="#2a2197"/><stop offset="0.7960" stop-color="#2a1e86"/><stop offset="1.0000" stop-color="#291b77"/></linearGradient><linearGradient id="g99" gradientUnits="userSpaceOnUse" x1="0" y1="91.3" x2="0" y2="490.4"><stop offset="0.0000" stop-color="#6dc56c"/><stop offset="0.0846" stop-color="#6dc56c"/><stop offset="0.1740" stop-color="#5eba75"/><stop offset="0.2113" stop-color="#4dac7e"/><stop offset="0.2585" stop-color="#358888"/><stop offset="0.3008" stop-color="#23718a"/><stop offset="0.3481" stop-color="#115593"/><stop offset="0.3730" stop-color="#0f4a98"/><stop offset="0.4177" stop-color="#222e9e"/><stop offset="0.4675" stop-color="#2a239f"/><stop offset="0.6219" stop-color="#2a2197"/><stop offset="0.7960" stop-color="#2a1e86"/><stop offset="1.0000" stop-color="#291b77"/></linearGradient><linearGradient id="g100" gradientUnits="userSpaceOnUse" x1="0" y1="91.3" x2="0" y2="490.4"><stop offset="0.0000" stop-color="#aed961"/><stop offset="0.0104" stop-color="#aed961"/><stop offset="0.0189" stop-color="#89ce63"/><stop offset="0.0323" stop-color="#6dc56c"/><stop offset="0.0846" stop-color="#6dc56c"/><stop offset="0.1745" stop-color="#5eba75"/><stop offset="0.2118" stop-color="#4dac7e"/><stop offset="0.2591" stop-color="#358888"/><stop offset="0.3014" stop-color="#23718a"/><stop offset="0.3486" stop-color="#115593"/><stop offset="0.3735" stop-color="#0f4a98"/><stop offset="0.4183" stop-color="#222e9e"/><stop offset="0.4680" stop-color="#2a239f"/><stop offset="0.6219" stop-color="#2a2197"/><stop offset="0.7960" stop-color="#2a1e86"/><stop offset="1.0000" stop-color="#291b77"/></linearGradient><linearGradient id="g101" gradientUnits="userSpaceOnUse" x1="0" y1="91.3" x2="0" y2="490.4"><stop offset="0.0000" stop-color="#aed961"/><stop offset="0.0077" stop-color="#aed961"/><stop offset="0.0149" stop-color="#89ce63"/><stop offset="0.0284" stop-color="#6dc56c"/><stop offset="0.0846" stop-color="#6dc56c"/><stop offset="0.1750" stop-color="#5eba75"/><stop offset="0.2123" stop-color="#4dac7e"/><stop offset="0.2596" stop-color="#358888"/><stop offset="0.3019" stop-color="#23718a"/><stop offset="0.3491" stop-color="#115593"/><stop offset="0.3740" stop-color="#0f4a98"/><stop offset="0.4188" stop-color="#222e9e"/><stop offset="0.4686" stop-color="#2a239f"/><stop offset="0.6219" stop-color="#2a2197"/><stop offset="0.7960" stop-color="#2a1e86"/><stop offset="1.0000" stop-color="#291b77"/></linearGradient><linearGradient id="g102" gradientUnits="userSpaceOnUse" x1="0" y1="91.3" x2="0" y2="490.4"><stop offset="0.0000" stop-color="#aed961"/><stop offset="0.0104" stop-color="#aed961"/><stop offset="0.0189" stop-color="#89ce63"/><stop offset="0.0323" stop-color="#6dc56c"/><stop offset="0.0846" stop-color="#6dc56c"/><stop offset="0.1756" stop-color="#5eba75"/><stop offset="0.2129" stop-color="#4dac7e"/><stop offset="0.2601" stop-color="#358888"/><stop offset="0.3024" stop-color="#23718a"/><stop offset="0.3497" stop-color="#115593"/><stop offset="0.3746" stop-color="#0f4a98"/><stop offset="0.4193" stop-color="#222e9e"/><stop offset="0.4691" stop-color="#2a239f"/><stop offset="0.6219" stop-color="#2a2197"/><stop offset="0.7960" stop-color="#2a1e86"/><stop offset="1.0000" stop-color="#291b77"/></linearGradient><linearGradient id="g103" gradientUnits="userSpaceOnUse" x1="0" y1="91.3" x2="0" y2="490.4"><stop offset="0.0000" stop-color="#aed961"/><stop offset="0.0237" stop-color="#aed961"/><stop offset="0.0378" stop-color="#89ce63"/><stop offset="0.0512" stop-color="#6dc56c"/><stop offset="0.0846" stop-color="#6dc56c"/><stop offset="0.1761" stop-color="#5eba75"/><stop offset="0.2134" stop-color="#4dac7e"/><stop offset="0.2607" stop-color="#358888"/><stop offset="0.3029" stop-color="#23718a"/><stop offset="0.3502" stop-color="#115593"/><stop offset="0.3751" stop-color="#0f4a98"/><stop offset="0.4199" stop-color="#222e9e"/><stop offset="0.4696" stop-color="#2a239f"/><stop offset="0.6219" stop-color="#2a2197"/><stop offset="0.7960" stop-color="#2a1e86"/><stop offset="1.0000" stop-color="#291b77"/></linearGradient><linearGradient id="g104" gradientUnits="userSpaceOnUse" x1="0" y1="91.3" x2="0" y2="490.4"><stop offset="0.0000" stop-color="#aed961"/><stop offset="0.0185" stop-color="#aed961"/><stop offset="0.0303" stop-color="#89ce63"/><stop offset="0.0438" stop-color="#6dc56c"/><stop offset="0.0846" stop-color="#6dc56c"/><stop offset="0.1766" stop-color="#5eba75"/><stop offset="0.2139" stop-color="#4dac7e"/><stop offset="0.2612" stop-color="#358888"/><stop offset="0.3035" stop-color="#23718a"/><stop offset="0.3507" stop-color="#115593"/><stop offset="0.3756" stop-color="#0f4a98"/><stop offset="0.4204" stop-color="#222e9e"/><stop offset="0.4701" stop-color="#2a239f"/><stop offset="0.6219" stop-color="#2a2197"/><stop offset="0.7960" stop-color="#2a1e86"/><stop offset="1.0000" stop-color="#291b77"/></linearGradient><linearGradient id="g105" gradientUnits="userSpaceOnUse" x1="0" y1="91.3" x2="0" y2="490.4"><stop offset="0.0000" stop-color="#badb65"/><stop offset="0.0237" stop-color="#badb65"/><stop offset="0.0378" stop-color="#8ed061"/><stop offset="0.0512" stop-color="#6dc56c"/><stop offset="0.0846" stop-color="#6dc56c"/><stop offset="0.1772" stop-color="#5eba75"/><stop offset="0.2145" stop-color="#4dac7e"/><stop offset="0.2617" stop-color="#358888"/><stop offset="0.3040" stop-color="#23718a"/><stop offset="0.3513" stop-color="#115593"/><stop offset="0.3762" stop-color="#0f4a98"/><stop offset="0.4210" stop-color="#222e9e"/><stop offset="0.4707" stop-color="#2a239f"/><stop offset="0.6219" stop-color="#2a2197"/><stop offset="0.7960" stop-color="#2a1e86"/><stop offset="1.0000" stop-color="#291b77"/></linearGradient><linearGradient id="g106" gradientUnits="userSpaceOnUse" x1="0" y1="91.3" x2="0" y2="490.4"><stop offset="0.0000" stop-color="#aed961"/><stop offset="0.0237" stop-color="#aed961"/><stop offset="0.0378" stop-color="#89ce63"/><stop offset="0.0512" stop-color="#6dc56c"/><stop offset="0.0846" stop-color="#6dc56c"/><stop offset="0.1777" stop-color="#5eba75"/><stop offset="0.2150" stop-color="#4dac7e"/><stop offset="0.2623" stop-color="#358888"/><stop offset="0.3046" stop-color="#23718a"/><stop offset="0.3519" stop-color="#115593"/><stop offset="0.3767" stop-color="#0f4a98"/><stop offset="0.4215" stop-color="#222e9e"/><stop offset="0.4713" stop-color="#2a239f"/><stop offset="0.6219" stop-color="#2a2197"/><stop offset="0.7960" stop-color="#2a1e86"/><stop offset="1.0000" stop-color="#291b77"/></linearGradient><linearGradient id="g107" gradientUnits="userSpaceOnUse" x1="0" y1="91.3" x2="0" y2="490.4"><stop offset="0.0000" stop-color="#aed961"/><stop offset="0.0212" stop-color="#aed961"/><stop offset="0.0343" stop-color="#89ce63"/><stop offset="0.0478" stop-color="#6dc56c"/><stop offset="0.0846" stop-color="#6dc56c"/><stop offset="0.1783" stop-color="#5eba75"/><stop offset="0.2156" stop-color="#4dac7e"/><stop offset="0.2629" stop-color="#358888"/><stop offset="0.3051" stop-color="#23718a"/><stop offset="0.3524" stop-color="#115593"/><stop offset="0.3773" stop-color="#0f4a98"/><stop offset="0.4221" stop-color="#222e9e"/><stop offset="0.4718" stop-color="#2a239f"/><stop offset="0.6219" stop-color="#2a2197"/><stop offset="0.7960" stop-color="#2a1e86"/><stop offset="1.0000" stop-color="#291b77"/></linearGradient><linearGradient id="g108" gradientUnits="userSpaceOnUse" x1="0" y1="91.3" x2="0" y2="490.4"><stop offset="0.0000" stop-color="#aed961"/><stop offset="0.0293" stop-color="#aed961"/><stop offset="0.0458" stop-color="#89ce63"/><stop offset="0.0592" stop-color="#6dc56c"/><stop offset="0.0846" stop-color="#6dc56c"/><stop offset="0.1788" stop-color="#5eba75"/><stop offset="0.2161" stop-color="#4dac7e"/><stop offset="0.2634" stop-color="#358888"/><stop offset="0.3057" stop-color="#23718a"/><stop offset="0.3530" stop-color="#115593"/><stop offset="0.3778" stop-color="#0f4a98"/><stop offset="0.4226" stop-color="#222e9e"/><stop offset="0.4724" stop-color="#2a239f"/><stop offset="0.6219" stop-color="#2a2197"/><stop offset="0.7960" stop-color="#2a1e86"/><stop offset="1.0000" stop-color="#291b77"/></linearGradient><linearGradient id="g109" gradientUnits="userSpaceOnUse" x1="0" y1="91.3" x2="0" y2="490.4"><stop offset="0.0000" stop-color="#aed961"/><stop offset="0.0265" stop-color="#aed961"/><stop offset="0.0418" stop-color="#89ce63"/><stop offset="0.0552" stop-color="#6dc56c"/><stop offset="0.0846" stop-color="#6dc56c"/><stop offset="0.1794" stop-color="#5eba75"/><stop offset="0.2167" stop-color="#4dac7e"/><stop offset="0.2640" stop-color="#358888"/><stop offset="0.3062" stop-color="#23718a"/><stop offset="0.3535" stop-color="#115593"/><stop offset="0.3784" stop-color="#0f4a98"/><stop offset="0.4232" stop-color="#222e9e"/><stop offset="0.4729" stop-color="#2a239f"/><stop offset="0.6219" stop-color="#2a2197"/><stop offset="0.7960" stop-color="#2a1e86"/><stop offset="1.0000" stop-color="#291b77"/></linearGradient><linearGradient id="g110" gradientUnits="userSpaceOnUse" x1="0" y1="91.3" x2="0" y2="490.4"><stop offset="0.0000" stop-color="#b3da63"/><stop offset="0.0320" stop-color="#b3da63"/><stop offset="0.0498" stop-color="#8bcf62"/><stop offset="0.0632" stop-color="#6dc56c"/><stop offset="0.0846" stop-color="#6dc56c"/><stop offset="0.1799" stop-color="#5eba75"/><stop offset="0.2172" stop-color="#4dac7e"/><stop offset="0.2645" stop-color="#358888"/><stop offset="0.3068" stop-color="#23718a"/><stop offset="0.3541" stop-color="#115593"/><stop offset="0.3789" stop-color="#0f4a98"/><stop offset="0.4237" stop-color="#222e9e"/><stop offset="0.4735" stop-color="#2a239f"/><stop offset="0.6219" stop-color="#2a2197"/><stop offset="0.7960" stop-color="#2a1e86"/><stop offset="1.0000" stop-color="#291b77"/></linearGradient><linearGradient id="g111" gradientUnits="userSpaceOnUse" x1="0" y1="91.3" x2="0" y2="490.4"><stop offset="0.0000" stop-color="#b3da63"/><stop offset="0.0293" stop-color="#b3da63"/><stop offset="0.0458" stop-color="#8bcf62"/><stop offset="0.0592" stop-color="#6dc56c"/><stop offset="0.0846" stop-color="#6dc56c"/><stop offset="0.1805" stop-color="#5eba75"/><stop offset="0.2178" stop-color="#4dac7e"/><stop offset="0.2651" stop-color="#358888"/><stop offset="0.3074" stop-color="#23718a"/><stop offset="0.3546" stop-color="#115593"/><stop offset="0.3795" stop-color="#0f4a98"/><stop offset="0.4243" stop-color="#222e9e"/><stop offset="0.4740" stop-color="#2a239f"/><stop offset="0.6219" stop-color="#2a2197"/><stop offset="0.7960" stop-color="#2a1e86"/><stop offset="1.0000" stop-color="#291b77"/></linearGradient><linearGradient id="g112" gradientUnits="userSpaceOnUse" x1="0" y1="91.3" x2="0" y2="490.4"><stop offset="0.0000" stop-color="#b3da63"/><stop offset="0.0293" stop-color="#b3da63"/><stop offset="0.0458" stop-color="#8bcf62"/><stop offset="0.0592" stop-color="#6dc56c"/><stop offset="0.0846" stop-color="#6dc56c"/><stop offset="0.1810" stop-color="#5eba75"/><stop offset="0.2184" stop-color="#4dac7e"/><stop offset="0.2656" stop-color="#358888"/><stop offset="0.3079" stop-color="#23718a"/><stop offset="0.3552" stop-color="#115593"/><stop offset="0.3800" stop-color="#0f4a98"/><stop offset="0.4248" stop-color="#222e9e"/><stop offset="0.4746" stop-color="#2a239f"/><stop offset="0.6219" stop-color="#2a2197"/><stop offset="0.7960" stop-color="#2a1e86"/><stop offset="1.0000" stop-color="#291b77"/></linearGradient><linearGradient id="g113" gradientUnits="userSpaceOnUse" x1="0" y1="91.3" x2="0" y2="490.4"><stop offset="0.0000" stop-color="#aed961"/><stop offset="0.0265" stop-color="#aed961"/><stop offset="0.0418" stop-color="#89ce63"/><stop offset="0.0552" stop-color="#6dc56c"/><stop offset="0.0846" stop-color="#6dc56c"/><stop offset="0.1816" stop-color="#5eba75"/><stop offset="0.2189" stop-color="#4dac7e"/><stop offset="0.2662" stop-color="#358888"/><stop offset="0.3085" stop-color="#23718a"/><stop offset="0.3557" stop-color="#115593"/><stop offset="0.3806" stop-color="#0f4a98"/><stop offset="0.4254" stop-color="#222e9e"/><stop offset="0.4751" stop-color="#2a239f"/><stop offset="0.6219" stop-color="#2a2197"/><stop offset="0.7960" stop-color="#2a1e86"/><stop offset="1.0000" stop-color="#291b77"/></linearGradient><linearGradient id="g114" gradientUnits="userSpaceOnUse" x1="0" y1="91.3" x2="0" y2="490.4"><stop offset="0.0000" stop-color="#a2d65c"/><stop offset="0.0049" stop-color="#a2d65c"/><stop offset="0.0109" stop-color="#84cd64"/><stop offset="0.0244" stop-color="#6dc56c"/><stop offset="0.0846" stop-color="#6dc56c"/><stop offset="0.1810" stop-color="#5eba75"/><stop offset="0.2184" stop-color="#4dac7e"/><stop offset="0.2656" stop-color="#358888"/><stop offset="0.3079" stop-color="#23718a"/><stop offset="0.3552" stop-color="#115593"/><stop offset="0.3800" stop-color="#0f4a98"/><stop offset="0.4248" stop-color="#222e9e"/><stop offset="0.4746" stop-color="#2a239f"/><stop offset="0.6219" stop-color="#2a2197"/><stop offset="0.7960" stop-color="#2a1e86"/><stop offset="1.0000" stop-color="#291b77"/></linearGradient><linearGradient id="g115" gradientUnits="userSpaceOnUse" x1="0" y1="91.3" x2="0" y2="490.4"><stop offset="0.0000" stop-color="#a2d65c"/><stop offset="0.0049" stop-color="#a2d65c"/><stop offset="0.0109" stop-color="#84cd64"/><stop offset="0.0244" stop-color="#6dc56c"/><stop offset="0.0846" stop-color="#6dc56c"/><stop offset="0.1805" stop-color="#5eba75"/><stop offset="0.2178" stop-color="#4dac7e"/><stop offset="0.2651" stop-color="#358888"/><stop offset="0.3074" stop-color="#23718a"/><stop offset="0.3546" stop-color="#115593"/><stop offset="0.3795" stop-color="#0f4a98"/><stop offset="0.4243" stop-color="#222e9e"/><stop offset="0.4740" stop-color="#2a239f"/><stop offset="0.6219" stop-color="#2a2197"/><stop offset="0.7960" stop-color="#2a1e86"/><stop offset="1.0000" stop-color="#291b77"/></linearGradient><linearGradient id="g116" gradientUnits="userSpaceOnUse" x1="0" y1="91.3" x2="0" y2="490.4"><stop offset="0.0000" stop-color="#a2d65c"/><stop offset="0.0104" stop-color="#a2d65c"/><stop offset="0.0189" stop-color="#84cd64"/><stop offset="0.0323" stop-color="#6dc56c"/><stop offset="0.0846" stop-color="#6dc56c"/><stop offset="0.1799" stop-color="#5eba75"/><stop offset="0.2172" stop-color="#4dac7e"/><stop offset="0.2645" stop-color="#358888"/><stop offset="0.3068" stop-color="#23718a"/><stop offset="0.3541" stop-color="#115593"/><stop offset="0.3789" stop-color="#0f4a98"/><stop offset="0.4237" stop-color="#222e9e"/><stop offset="0.4735" stop-color="#2a239f"/><stop offset="0.6219" stop-color="#2a2197"/><stop offset="0.7960" stop-color="#2a1e86"/><stop offset="1.0000" stop-color="#291b77"/></linearGradient><linearGradient id="g117" gradientUnits="userSpaceOnUse" x1="0" y1="91.3" x2="0" y2="490.4"><stop offset="0.0000" stop-color="#84cd64"/><stop offset="0.0122" stop-color="#84cd64"/><stop offset="0.0214" stop-color="#77c968"/><stop offset="0.0348" stop-color="#6dc56c"/><stop offset="0.0846" stop-color="#6dc56c"/><stop offset="0.1794" stop-color="#5eba75"/><stop offset="0.2167" stop-color="#4dac7e"/><stop offset="0.2640" stop-color="#358888"/><stop offset="0.3062" stop-color="#23718a"/><stop offset="0.3535" stop-color="#115593"/><stop offset="0.3784" stop-color="#0f4a98"/><stop offset="0.4232" stop-color="#222e9e"/><stop offset="0.4729" stop-color="#2a239f"/><stop offset="0.6219" stop-color="#2a2197"/><stop offset="0.7960" stop-color="#2a1e86"/><stop offset="1.0000" stop-color="#291b77"/></linearGradient><linearGradient id="g118" gradientUnits="userSpaceOnUse" x1="0" y1="91.3" x2="0" y2="490.4"><stop offset="0.0000" stop-color="#84cd64"/><stop offset="0.0122" stop-color="#84cd64"/><stop offset="0.0214" stop-color="#77c968"/><stop offset="0.0348" stop-color="#6dc56c"/><stop offset="0.0846" stop-color="#6dc56c"/><stop offset="0.1788" stop-color="#5eba75"/><stop offset="0.2161" stop-color="#4dac7e"/><stop offset="0.2634" stop-color="#358888"/><stop offset="0.3057" stop-color="#23718a"/><stop offset="0.3530" stop-color="#115593"/><stop offset="0.3778" stop-color="#0f4a98"/><stop offset="0.4226" stop-color="#222e9e"/><stop offset="0.4724" stop-color="#2a239f"/><stop offset="0.6219" stop-color="#2a2197"/><stop offset="0.7960" stop-color="#2a1e86"/><stop offset="1.0000" stop-color="#291b77"/></linearGradient><linearGradient id="g119" gradientUnits="userSpaceOnUse" x1="0" y1="91.3" x2="0" y2="490.4"><stop offset="0.0000" stop-color="#bfdc67"/><stop offset="0.0313" stop-color="#bfdc67"/><stop offset="0.0488" stop-color="#90d160"/><stop offset="0.0622" stop-color="#6dc56c"/><stop offset="0.0846" stop-color="#6dc56c"/><stop offset="0.1783" stop-color="#5eba75"/><stop offset="0.2156" stop-color="#4dac7e"/><stop offset="0.2629" stop-color="#358888"/><stop offset="0.3051" stop-color="#23718a"/><stop offset="0.3524" stop-color="#115593"/><stop offset="0.3773" stop-color="#0f4a98"/><stop offset="0.4221" stop-color="#222e9e"/><stop offset="0.4718" stop-color="#2a239f"/><stop offset="0.6219" stop-color="#2a2197"/><stop offset="0.7960" stop-color="#2a1e86"/><stop offset="1.0000" stop-color="#291b77"/></linearGradient><linearGradient id="g120" gradientUnits="userSpaceOnUse" x1="0" y1="91.3" x2="0" y2="490.4"><stop offset="0.0000" stop-color="#bfdc67"/><stop offset="0.0313" stop-color="#bfdc67"/><stop offset="0.0488" stop-color="#90d160"/><stop offset="0.0622" stop-color="#6dc56c"/><stop offset="0.0846" stop-color="#6dc56c"/><stop offset="0.1777" stop-color="#5eba75"/><stop offset="0.2150" stop-color="#4dac7e"/><stop offset="0.2623" stop-color="#358888"/><stop offset="0.3046" stop-color="#23718a"/><stop offset="0.3519" stop-color="#115593"/><stop offset="0.3767" stop-color="#0f4a98"/><stop offset="0.4215" stop-color="#222e9e"/><stop offset="0.4713" stop-color="#2a239f"/><stop offset="0.6219" stop-color="#2a2197"/><stop offset="0.7960" stop-color="#2a1e86"/><stop offset="1.0000" stop-color="#291b77"/></linearGradient><linearGradient id="g121" gradientUnits="userSpaceOnUse" x1="0" y1="91.3" x2="0" y2="490.4"><stop offset="0.0000" stop-color="#bfdc67"/><stop offset="0.0331" stop-color="#bfdc67"/><stop offset="0.0512" stop-color="#90d160"/><stop offset="0.0647" stop-color="#6dc56c"/><stop offset="0.0846" stop-color="#6dc56c"/><stop offset="0.1772" stop-color="#5eba75"/><stop offset="0.2145" stop-color="#4dac7e"/><stop offset="0.2617" stop-color="#358888"/><stop offset="0.3040" stop-color="#23718a"/><stop offset="0.3513" stop-color="#115593"/><stop offset="0.3762" stop-color="#0f4a98"/><stop offset="0.4210" stop-color="#222e9e"/><stop offset="0.4707" stop-color="#2a239f"/><stop offset="0.6219" stop-color="#2a2197"/><stop offset="0.7960" stop-color="#2a1e86"/><stop offset="1.0000" stop-color="#291b77"/></linearGradient><linearGradient id="g122" gradientUnits="userSpaceOnUse" x1="0" y1="91.3" x2="0" y2="490.4"><stop offset="0.0000" stop-color="#bfdc67"/><stop offset="0.0331" stop-color="#bfdc67"/><stop offset="0.0512" stop-color="#90d160"/><stop offset="0.0647" stop-color="#6dc56c"/><stop offset="0.0846" stop-color="#6dc56c"/><stop offset="0.1766" stop-color="#5eba75"/><stop offset="0.2139" stop-color="#4dac7e"/><stop offset="0.2612" stop-color="#358888"/><stop offset="0.3035" stop-color="#23718a"/><stop offset="0.3507" stop-color="#115593"/><stop offset="0.3756" stop-color="#0f4a98"/><stop offset="0.4204" stop-color="#222e9e"/><stop offset="0.4701" stop-color="#2a239f"/><stop offset="0.6219" stop-color="#2a2197"/><stop offset="0.7960" stop-color="#2a1e86"/><stop offset="1.0000" stop-color="#291b77"/></linearGradient><linearGradient id="g123" gradientUnits="userSpaceOnUse" x1="0" y1="91.3" x2="0" y2="490.4"><stop offset="0.0000" stop-color="#a2d65c"/><stop offset="0.0348" stop-color="#a2d65c"/><stop offset="0.0537" stop-color="#84cd64"/><stop offset="0.0672" stop-color="#6dc56c"/><stop offset="0.0846" stop-color="#6dc56c"/><stop offset="0.1716" stop-color="#5eba75"/><stop offset="0.2090" stop-color="#4dac7e"/><stop offset="0.2562" stop-color="#358888"/><stop offset="0.2985" stop-color="#23718a"/><stop offset="0.3458" stop-color="#115593"/><stop offset="0.3706" stop-color="#0f4a98"/><stop offset="0.4154" stop-color="#222e9e"/><stop offset="0.4652" stop-color="#2a239f"/><stop offset="0.6219" stop-color="#2a2197"/><stop offset="0.7960" stop-color="#2a1e86"/><stop offset="1.0000" stop-color="#291b77"/></linearGradient><linearGradient id="g124" gradientUnits="userSpaceOnUse" x1="0" y1="91.3" x2="0" y2="490.4"><stop offset="0.0000" stop-color="#a2d65c"/><stop offset="0.0279" stop-color="#a2d65c"/><stop offset="0.0438" stop-color="#84cd64"/><stop offset="0.0572" stop-color="#6dc56c"/><stop offset="0.0846" stop-color="#6dc56c"/><stop offset="0.1667" stop-color="#5eba75"/><stop offset="0.2040" stop-color="#4dac7e"/><stop offset="0.2512" stop-color="#358888"/><stop offset="0.2935" stop-color="#23718a"/><stop offset="0.3408" stop-color="#115593"/><stop offset="0.3657" stop-color="#0f4a98"/><stop offset="0.4104" stop-color="#222e9e"/><stop offset="0.4602" stop-color="#2a239f"/><stop offset="0.6219" stop-color="#2a2197"/><stop offset="0.7960" stop-color="#2a1e86"/><stop offset="1.0000" stop-color="#291b77"/></linearGradient><linearGradient id="g125" gradientUnits="userSpaceOnUse" x1="0" y1="91.3" x2="0" y2="490.4"><stop offset="0.0000" stop-color="#b3da63"/><stop offset="0.0293" stop-color="#b3da63"/><stop offset="0.0458" stop-color="#8bcf62"/><stop offset="0.0592" stop-color="#6dc56c"/><stop offset="0.0846" stop-color="#6dc56c"/><stop offset="0.1617" stop-color="#5eba75"/><stop offset="0.1990" stop-color="#4dac7e"/><stop offset="0.2463" stop-color="#358888"/><stop offset="0.2886" stop-color="#23718a"/><stop offset="0.3358" stop-color="#115593"/><stop offset="0.3607" stop-color="#0f4a98"/><stop offset="0.4055" stop-color="#222e9e"/><stop offset="0.4552" stop-color="#2a239f"/><stop offset="0.6219" stop-color="#2a2197"/><stop offset="0.7960" stop-color="#2a1e86"/><stop offset="1.0000" stop-color="#291b77"/></linearGradient><linearGradient id="cb" x1="0" y1="1" x2="0" y2="0"><stop offset="0.0000" stop-color="rgb(41,24,107)"/><stop offset="0.0909" stop-color="rgb(42,35,160)"/><stop offset="0.1818" stop-color="rgb(15,71,153)"/><stop offset="0.2727" stop-color="rgb(18,95,142)"/><stop offset="0.3636" stop-color="rgb(38,116,137)"/><stop offset="0.4545" stop-color="rgb(53,136,136)"/><stop offset="0.5455" stop-color="rgb(65,157,133)"/><stop offset="0.6364" stop-color="rgb(81,178,124)"/><stop offset="0.7273" stop-color="rgb(111,198,107)"/><stop offset="0.8182" stop-color="rgb(160,214,91)"/><stop offset="0.9091" stop-color="rgb(212,225,112)"/><stop offset="1.0000" stop-color="rgb(253,238,153)"/></linearGradient></defs>
<rect width="1400" height="600" fill="#fff"/>
<g><rect x="211.58" y="88.70" width="5.5" height="100.60" rx="2.72" fill="url(#g0)"/><rect x="217.88" y="88.70" width="5.5" height="397.00" rx="2.72" fill="url(#g1)"/><rect x="224.18" y="88.70" width="5.5" height="391.90" rx="2.72" fill="url(#g2)"/><rect x="230.38" y="88.70" width="5.5" height="395.50" rx="2.72" fill="url(#g3)"/><rect x="236.68" y="88.70" width="5.5" height="394.40" rx="2.72" fill="url(#g4)"/><rect x="242.78" y="88.70" width="5.5" height="389.70" rx="2.72" fill="url(#g5)"/><rect x="248.97" y="88.70" width="5.5" height="391.90" rx="2.72" fill="url(#g6)"/><rect x="255.28" y="88.70" width="5.5" height="395.70" rx="2.72" fill="url(#g7)"/><rect x="261.38" y="88.70" width="5.5" height="391.90" rx="2.72" fill="url(#g8)"/><rect x="267.67" y="88.70" width="5.5" height="396.60" rx="2.72" fill="url(#g9)"/><rect x="273.88" y="88.70" width="5.5" height="391.90" rx="2.72" fill="url(#g10)"/><rect x="280.07" y="88.70" width="5.5" height="397.40" rx="2.72" fill="url(#g11)"/><rect x="286.38" y="88.70" width="5.5" height="397.40" rx="2.72" fill="url(#g12)"/><rect x="292.67" y="88.70" width="5.5" height="402.60" rx="2.72" fill="url(#g13)"/><rect x="298.88" y="88.70" width="5.5" height="392.70" rx="2.72" fill="url(#g14)"/><rect x="305.07" y="88.70" width="5.5" height="394.30" rx="2.72" fill="url(#g15)"/><rect x="311.38" y="88.70" width="5.5" height="392.70" rx="2.72" fill="url(#g16)"/><rect x="317.57" y="88.70" width="5.5" height="403.70" rx="2.72" fill="url(#g17)"/><rect x="323.88" y="88.70" width="5.5" height="392.70" rx="2.72" fill="url(#g18)"/><rect x="329.97" y="88.70" width="5.5" height="392.70" rx="2.72" fill="url(#g19)"/><rect x="336.27" y="88.70" width="5.5" height="393.80" rx="2.72" fill="url(#g20)"/><rect x="342.57" y="88.70" width="5.5" height="395.30" rx="2.72" fill="url(#g21)"/><rect x="348.67" y="88.70" width="5.5" height="394.30" rx="2.72" fill="url(#g22)"/><rect x="354.77" y="88.70" width="5.5" height="392.60" rx="2.72" fill="url(#g23)"/><rect x="361.17" y="88.70" width="5.5" height="392.60" rx="2.72" fill="url(#g24)"/><rect x="367.38" y="88.70" width="5.5" height="393.40" rx="2.72" fill="url(#g25)"/><rect x="373.67" y="88.70" width="5.5" height="394.90" rx="2.72" fill="url(#g26)"/><rect x="379.88" y="88.70" width="5.5" height="392.70" rx="2.72" fill="url(#g27)"/><rect x="386.07" y="88.70" width="5.5" height="395.70" rx="2.72" fill="url(#g28)"/><rect x="392.38" y="88.70" width="5.5" height="395.70" rx="2.72" fill="url(#g29)"/><rect x="398.67" y="88.70" width="5.5" height="397.40" rx="2.72" fill="url(#g30)"/><rect x="404.88" y="88.70" width="5.5" height="396.00" rx="2.72" fill="url(#g31)"/><rect x="411.07" y="88.70" width="5.5" height="397.70" rx="2.72" fill="url(#g32)"/><rect x="417.38" y="88.70" width="5.5" height="397.20" rx="2.72" fill="url(#g33)"/><rect x="423.57" y="88.70" width="5.5" height="398.50" rx="2.72" fill="url(#g34)"/><rect x="429.77" y="88.70" width="5.5" height="396.00" rx="2.72" fill="url(#g35)"/><rect x="435.97" y="88.70" width="5.5" height="397.00" rx="2.72" fill="url(#g36)"/><rect x="442.38" y="88.70" width="5.5" height="394.40" rx="2.72" fill="url(#g37)"/><rect x="448.57" y="88.70" width="5.5" height="395.70" rx="2.72" fill="url(#g38)"/><rect x="454.77" y="88.70" width="5.5" height="395.70" rx="2.72" fill="url(#g39)"/><rect x="460.97" y="88.70" width="5.5" height="393.20" rx="2.72" fill="url(#g40)"/><rect x="467.17" y="88.70" width="5.5" height="397.40" rx="2.72" fill="url(#g41)"/><rect x="473.38" y="88.70" width="5.5" height="396.40" rx="2.72" fill="url(#g42)"/><rect x="479.67" y="88.70" width="5.5" height="398.50" rx="2.72" fill="url(#g43)"/><rect x="485.88" y="88.70" width="5.5" height="395.70" rx="2.72" fill="url(#g44)"/><rect x="491.97" y="88.70" width="5.5" height="396.40" rx="2.72" fill="url(#g45)"/><rect x="498.47" y="88.70" width="5.5" height="398.70" rx="2.72" fill="url(#g46)"/><rect x="504.67" y="88.70" width="5.5" height="392.60" rx="2.72" fill="url(#g47)"/><rect x="510.88" y="88.70" width="5.5" height="393.80" rx="2.72" fill="url(#g48)"/><rect x="517.67" y="88.70" width="5.5" height="393.40" rx="2.72" fill="url(#g49)"/><rect x="523.77" y="88.70" width="5.5" height="395.70" rx="2.72" fill="url(#g50)"/><rect x="530.17" y="88.70" width="5.5" height="402.10" rx="2.72" fill="url(#g51)"/><rect x="536.38" y="88.70" width="5.5" height="396.60" rx="2.72" fill="url(#g52)"/><rect x="542.77" y="88.70" width="5.5" height="393.80" rx="2.72" fill="url(#g53)"/><rect x="549.27" y="88.70" width="5.5" height="394.40" rx="2.72" fill="url(#g54)"/><rect x="555.77" y="88.70" width="5.5" height="395.70" rx="2.72" fill="url(#g55)"/><rect x="561.98" y="88.70" width="5.5" height="395.70" rx="2.72" fill="url(#g56)"/><rect x="568.27" y="88.70" width="5.5" height="391.70" rx="2.72" fill="url(#g57)"/><rect x="574.38" y="88.70" width="5.5" height="394.90" rx="2.72" fill="url(#g58)"/><rect x="581.27" y="88.70" width="5.5" height="395.70" rx="2.72" fill="url(#g59)"/><rect x="587.48" y="88.70" width="5.5" height="392.70" rx="2.72" fill="url(#g60)"/><rect x="593.67" y="88.70" width="5.5" height="397.40" rx="2.72" fill="url(#g61)"/><rect x="599.88" y="88.70" width="5.5" height="397.90" rx="2.72" fill="url(#g62)"/><rect x="606.27" y="88.70" width="5.5" height="393.60" rx="2.72" fill="url(#g63)"/><rect x="612.98" y="88.70" width="5.5" height="394.00" rx="2.72" fill="url(#g64)"/><rect x="619.17" y="88.70" width="5.5" height="395.30" rx="2.72" fill="url(#g65)"/><rect x="625.57" y="88.70" width="5.5" height="398.30" rx="2.72" fill="url(#g66)"/><rect x="631.77" y="88.70" width="5.5" height="395.70" rx="2.72" fill="url(#g67)"/><rect x="638.67" y="88.70" width="5.5" height="398.70" rx="2.72" fill="url(#g68)"/><rect x="644.88" y="88.70" width="5.5" height="394.40" rx="2.72" fill="url(#g69)"/><rect x="651.07" y="88.70" width="5.5" height="394.00" rx="2.72" fill="url(#g70)"/><rect x="657.38" y="88.70" width="5.5" height="393.80" rx="2.72" fill="url(#g71)"/><rect x="663.57" y="88.70" width="5.5" height="392.30" rx="2.72" fill="url(#g72)"/><rect x="670.38" y="88.70" width="5.5" height="391.40" rx="2.72" fill="url(#g73)"/><rect x="676.67" y="88.70" width="5.5" height="398.50" rx="2.72" fill="url(#g74)"/><rect x="682.88" y="88.70" width="5.5" height="397.90" rx="2.72" fill="url(#g75)"/><rect x="688.98" y="88.70" width="5.5" height="393.40" rx="2.72" fill="url(#g76)"/><rect x="695.48" y="88.70" width="5.5" height="393.80" rx="2.72" fill="url(#g77)"/><rect x="702.07" y="88.70" width="5.5" height="396.60" rx="2.72" fill="url(#g78)"/><rect x="708.57" y="88.70" width="5.5" height="393.80" rx="2.72" fill="url(#g79)"/><rect x="714.67" y="88.70" width="5.5" height="392.70" rx="2.72" fill="url(#g80)"/><rect x="720.77" y="88.70" width="5.5" height="394.30" rx="2.72" fill="url(#g81)"/><rect x="726.98" y="88.70" width="5.5" height="393.80" rx="2.72" fill="url(#g82)"/><rect x="733.98" y="88.70" width="5.5" height="398.50" rx="2.72" fill="url(#g83)"/><rect x="740.27" y="88.70" width="5.5" height="395.70" rx="2.72" fill="url(#g84)"/><rect x="746.67" y="88.70" width="5.5" height="395.70" rx="2.72" fill="url(#g85)"/><rect x="752.88" y="88.70" width="5.5" height="395.70" rx="2.72" fill="url(#g86)"/><rect x="759.07" y="88.70" width="5.5" height="396.40" rx="2.72" fill="url(#g87)"/><rect x="765.67" y="88.70" width="5.5" height="393.80" rx="2.72" fill="url(#g88)"/><rect x="771.98" y="88.70" width="5.5" height="399.10" rx="2.72" fill="url(#g89)"/><rect x="777.98" y="88.70" width="5.5" height="396.20" rx="2.72" fill="url(#g90)"/><rect x="784.67" y="88.70" width="5.5" height="394.90" rx="2.72" fill="url(#g91)"/><rect x="791.27" y="88.70" width="5.5" height="394.30" rx="2.72" fill="url(#g92)"/><rect x="797.57" y="88.70" width="5.5" height="396.20" rx="2.72" fill="url(#g93)"/><rect x="803.67" y="88.70" width="5.5" height="396.20" rx="2.72" fill="url(#g94)"/><rect x="809.98" y="88.70" width="5.5" height="400.00" rx="2.72" fill="url(#g95)"/><rect x="816.27" y="88.70" width="5.5" height="394.30" rx="2.72" fill="url(#g96)"/><rect x="822.98" y="88.70" width="5.5" height="402.60" rx="2.72" fill="url(#g97)"/><rect x="829.38" y="88.70" width="5.5" height="396.20" rx="2.72" fill="url(#g98)"/><rect x="835.57" y="88.70" width="5.5" height="395.30" rx="2.72" fill="url(#g99)"/><rect x="841.88" y="88.70" width="5.5" height="400.40" rx="2.72" fill="url(#g100)"/><rect x="847.98" y="88.70" width="5.5" height="396.20" rx="2.72" fill="url(#g101)"/><rect x="854.67" y="88.70" width="5.5" height="396.20" rx="2.72" fill="url(#g102)"/><rect x="860.88" y="88.70" width="5.5" height="395.70" rx="2.72" fill="url(#g103)"/><rect x="867.38" y="88.70" width="5.5" height="395.70" rx="2.72" fill="url(#g104)"/><rect x="873.57" y="88.70" width="5.5" height="395.30" rx="2.72" fill="url(#g105)"/><rect x="879.77" y="88.70" width="5.5" height="394.90" rx="2.72" fill="url(#g106)"/><rect x="886.57" y="88.70" width="5.5" height="394.40" rx="2.72" fill="url(#g107)"/><rect x="892.88" y="88.70" width="5.5" height="396.60" rx="2.72" fill="url(#g108)"/><rect x="899.07" y="88.70" width="5.5" height="394.90" rx="2.72" fill="url(#g109)"/><rect x="905.48" y="88.70" width="5.5" height="394.40" rx="2.72" fill="url(#g110)"/><rect x="911.67" y="88.70" width="5.5" height="398.30" rx="2.72" fill="url(#g111)"/><rect x="918.38" y="88.70" width="5.5" height="392.30" rx="2.72" fill="url(#g112)"/><rect x="924.67" y="88.70" width="5.5" height="395.70" rx="2.72" fill="url(#g113)"/><rect x="930.98" y="88.70" width="5.5" height="397.40" rx="2.72" fill="url(#g114)"/><rect x="937.27" y="88.70" width="5.5" height="395.30" rx="2.72" fill="url(#g115)"/><rect x="943.88" y="88.70" width="5.5" height="396.20" rx="2.72" fill="url(#g116)"/><rect x="950.27" y="88.70" width="5.5" height="394.40" rx="2.72" fill="url(#g117)"/><rect x="956.48" y="88.70" width="5.5" height="396.60" rx="2.72" fill="url(#g118)"/><rect x="962.67" y="88.70" width="5.5" height="394.40" rx="2.72" fill="url(#g119)"/><rect x="968.98" y="88.70" width="5.5" height="396.60" rx="2.72" fill="url(#g120)"/><rect x="975.67" y="88.70" width="5.5" height="399.60" rx="2.72" fill="url(#g121)"/><rect x="981.98" y="88.70" width="5.5" height="394.40" rx="2.72" fill="url(#g122)"/><rect x="988.38" y="88.70" width="5.5" height="399.10" rx="2.72" fill="url(#g123)"/><rect x="994.57" y="88.70" width="5.5" height="394.40" rx="2.72" fill="url(#g124)"/><rect x="1000.77" y="88.70" width="5.5" height="391.70" rx="2.72" fill="url(#g125)"/></g>
<rect x="175.5" y="72.5" width="868" height="438" fill="none" stroke="#000" stroke-width="1.11"/>
<line x1="170.1" y1="91.50" x2="175" y2="91.50" stroke="#000" stroke-width="1.11"/><line x1="170.1" y1="140.50" x2="175" y2="140.50" stroke="#000" stroke-width="1.11"/><line x1="170.1" y1="190.50" x2="175" y2="190.50" stroke="#000" stroke-width="1.11"/><line x1="170.1" y1="240.50" x2="175" y2="240.50" stroke="#000" stroke-width="1.11"/><line x1="170.1" y1="289.50" x2="175" y2="289.50" stroke="#000" stroke-width="1.11"/><line x1="170.1" y1="339.50" x2="175" y2="339.50" stroke="#000" stroke-width="1.11"/><line x1="170.1" y1="389.50" x2="175" y2="389.50" stroke="#000" stroke-width="1.11"/><line x1="170.1" y1="438.50" x2="175" y2="438.50" stroke="#000" stroke-width="1.11"/><line x1="170.1" y1="488.50" x2="175" y2="488.50" stroke="#000" stroke-width="1.11"/><line x1="235.50" y1="510" x2="235.50" y2="515.5" stroke="#000" stroke-width="1.11"/><line x1="348.50" y1="510" x2="348.50" y2="515.5" stroke="#000" stroke-width="1.11"/><line x1="462.50" y1="510" x2="462.50" y2="515.5" stroke="#000" stroke-width="1.11"/><line x1="575.50" y1="510" x2="575.50" y2="515.5" stroke="#000" stroke-width="1.11"/><line x1="690.50" y1="510" x2="690.50" y2="515.5" stroke="#000" stroke-width="1.11"/><line x1="803.50" y1="510" x2="803.50" y2="515.5" stroke="#000" stroke-width="1.11"/><line x1="918.50" y1="510" x2="918.50" y2="515.5" stroke="#000" stroke-width="1.11"/><line x1="1031.50" y1="510" x2="1031.50" y2="515.5" stroke="#000" stroke-width="1.11"/><line x1="1119.5" y1="499.50" x2="1124.5" y2="499.50" stroke="#000" stroke-width="1.11"/><line x1="1119.5" y1="407.50" x2="1124.5" y2="407.50" stroke="#000" stroke-width="1.11"/><line x1="1119.5" y1="315.50" x2="1124.5" y2="315.50" stroke="#000" stroke-width="1.11"/><line x1="1119.5" y1="224.50" x2="1124.5" y2="224.50" stroke="#000" stroke-width="1.11"/><line x1="1119.5" y1="132.50" x2="1124.5" y2="132.50" stroke="#000" stroke-width="1.11"/>
<rect x="1097.5" y="72.5" width="22" height="438" fill="url(#cb)" stroke="#000" stroke-width="1.11"/>
<text x="164.7" y="96.35" font-size="13.9" text-anchor="end" textLength="8.84" lengthAdjust="spacingAndGlyphs">0</text><text x="164.7" y="145.99" font-size="13.9" text-anchor="end" textLength="38.17" lengthAdjust="spacingAndGlyphs">−250</text><text x="164.7" y="195.62" font-size="13.9" text-anchor="end" textLength="38.17" lengthAdjust="spacingAndGlyphs">−500</text><text x="164.7" y="245.26" font-size="13.9" text-anchor="end" textLength="38.17" lengthAdjust="spacingAndGlyphs">−750</text><text x="164.7" y="294.90" font-size="13.9" text-anchor="end" textLength="47.01" lengthAdjust="spacingAndGlyphs">−1000</text><text x="164.7" y="344.54" font-size="13.9" text-anchor="end" textLength="47.01" lengthAdjust="spacingAndGlyphs">−1250</text><text x="164.7" y="394.17" font-size="13.9" text-anchor="end" textLength="47.01" lengthAdjust="spacingAndGlyphs">−1500</text><text x="164.7" y="443.81" font-size="13.9" text-anchor="end" textLength="47.01" lengthAdjust="spacingAndGlyphs">−1750</text><text x="164.7" y="493.45" font-size="13.9" text-anchor="end" textLength="47.01" lengthAdjust="spacingAndGlyphs">−2000</text><text transform="translate(234.40,540.5) rotate(-45)" font-size="8.8" text-anchor="middle" textLength="48" lengthAdjust="spacingAndGlyphs" dy="3">2022/01/01</text><text transform="translate(347.22,540.5) rotate(-45)" font-size="8.8" text-anchor="middle" textLength="48" lengthAdjust="spacingAndGlyphs" dy="3">2022/07/01</text><text transform="translate(461.92,540.5) rotate(-45)" font-size="8.8" text-anchor="middle" textLength="48" lengthAdjust="spacingAndGlyphs" dy="3">2023/01/01</text><text transform="translate(574.74,540.5) rotate(-45)" font-size="8.8" text-anchor="middle" textLength="48" lengthAdjust="spacingAndGlyphs" dy="3">2023/07/01</text><text transform="translate(689.43,540.5) rotate(-45)" font-size="8.8" text-anchor="middle" textLength="48" lengthAdjust="spacingAndGlyphs" dy="3">2024/01/01</text><text transform="translate(802.88,540.5) rotate(-45)" font-size="8.8" text-anchor="middle" textLength="48" lengthAdjust="spacingAndGlyphs" dy="3">2024/07/01</text><text transform="translate(917.57,540.5) rotate(-45)" font-size="8.8" text-anchor="middle" textLength="48" lengthAdjust="spacingAndGlyphs" dy="3">2025/01/01</text><text transform="translate(1030.39,540.5) rotate(-45)" font-size="8.8" text-anchor="middle" textLength="48" lengthAdjust="spacingAndGlyphs" dy="3">2025/07/01</text><text x="1129.0" y="504.30" font-size="13.9" textLength="30.9" lengthAdjust="spacingAndGlyphs">35.0</text><text x="1129.0" y="412.58" font-size="13.9" textLength="30.9" lengthAdjust="spacingAndGlyphs">35.5</text><text x="1129.0" y="320.85" font-size="13.9" textLength="30.9" lengthAdjust="spacingAndGlyphs">36.0</text><text x="1129.0" y="229.13" font-size="13.9" textLength="30.9" lengthAdjust="spacingAndGlyphs">36.5</text><text x="1129.0" y="137.40" font-size="13.9" textLength="30.9" lengthAdjust="spacingAndGlyphs">37.0</text>
<text x="608.8" y="37.9" font-size="16.67" text-anchor="middle" textLength="169" lengthAdjust="spacingAndGlyphs">ARGO float 6904126</text>
<text x="532.6" y="62.8" font-size="16.67" textLength="130.4" lengthAdjust="spacingAndGlyphs">Salinity PPT (10</text>
<text x="663.2" y="56" font-size="11.67" textLength="16.5" lengthAdjust="spacingAndGlyphs">−3</text>
<text x="680.3" y="62.8" font-size="16.67" textLength="5.6" lengthAdjust="spacingAndGlyphs">)</text>
<text x="589.9" y="579.9" font-size="17.3" textLength="39.2" lengthAdjust="spacingAndGlyphs">Date</text>
<text transform="translate(109.6,327.2) rotate(-90)" font-size="13.9" textLength="69" lengthAdjust="spacingAndGlyphs">Depth (m)</text>
<g transform="translate(1180.3,327.3) rotate(-90)"><text x="-0.8" y="0" font-size="13.9" textLength="50.2" lengthAdjust="spacingAndGlyphs">PPT (10</text><text x="50.8" y="-7.1" font-size="9.73" textLength="15.2" lengthAdjust="spacingAndGlyphs">−3</text><text x="66.4" y="0" font-size="13.9" textLength="5.3" lengthAdjust="spacingAndGlyphs">)</text></g>
</svg></body></html>
